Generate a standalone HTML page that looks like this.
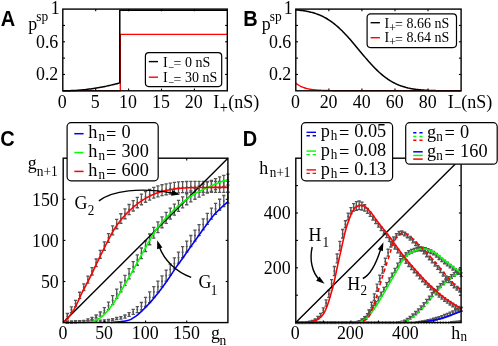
<!DOCTYPE html>
<html><head><meta charset="utf-8"><title>Figure</title>
<style>html,body{margin:0;padding:0;background:#fff;}svg{display:block;will-change:transform;opacity:0.999;}</style>
</head><body>
<svg width="498" height="346" viewBox="0 0 498 346">
<rect width="498" height="346" fill="#fff"/>
<path d="M62.8 90.8 L120.31 90.8 L120.31 34.43 L227.3 34.43" fill="none" stroke="#ff0000" stroke-width="1.3" stroke-linejoin="round" />
<path d="M62.8 90.8 L64.26 90.79 L65.72 90.78 L67.18 90.75 L68.64 90.72 L70.11 90.67 L71.57 90.61 L73.03 90.54 L74.49 90.47 L75.95 90.38 L77.41 90.28 L78.87 90.17 L80.33 90.05 L81.79 89.92 L83.26 89.78 L84.72 89.63 L86.18 89.47 L87.64 89.29 L89.1 89.11 L90.56 88.92 L92.02 88.72 L93.48 88.5 L94.94 88.28 L96.41 88.04 L97.87 87.8 L99.33 87.54 L100.79 87.28 L102.25 87 L103.71 86.72 L105.17 86.42 L106.63 86.11 L108.09 85.79 L109.56 85.46 L111.02 85.13 L112.48 84.78 L113.94 84.42 L115.4 84.05 L116.86 83.67 L118.32 83.28 L119.78 82.88 L119.78 10.33 L227.3 10.33" fill="none" stroke="#000" stroke-width="1.5" stroke-linejoin="round" />
<rect x="62.8" y="9.1" width="164.5" height="81.7" fill="none" stroke="#000" stroke-width="1.4"/>
<line x1="95.7" y1="90.8" x2="95.7" y2="88.6" stroke="#000" stroke-width="1.1" />
<line x1="95.7" y1="9.1" x2="95.7" y2="11.3" stroke="#000" stroke-width="1.1" />
<line x1="128.6" y1="90.8" x2="128.6" y2="88.6" stroke="#000" stroke-width="1.1" />
<line x1="128.6" y1="9.1" x2="128.6" y2="11.3" stroke="#000" stroke-width="1.1" />
<line x1="161.5" y1="90.8" x2="161.5" y2="88.6" stroke="#000" stroke-width="1.1" />
<line x1="161.5" y1="9.1" x2="161.5" y2="11.3" stroke="#000" stroke-width="1.1" />
<line x1="194.4" y1="90.8" x2="194.4" y2="88.6" stroke="#000" stroke-width="1.1" />
<line x1="194.4" y1="9.1" x2="194.4" y2="11.3" stroke="#000" stroke-width="1.1" />
<line x1="62.8" y1="74.46" x2="65" y2="74.46" stroke="#000" stroke-width="1.1" />
<line x1="227.3" y1="74.46" x2="225.1" y2="74.46" stroke="#000" stroke-width="1.1" />
<line x1="62.8" y1="58.12" x2="65" y2="58.12" stroke="#000" stroke-width="1.1" />
<line x1="227.3" y1="58.12" x2="225.1" y2="58.12" stroke="#000" stroke-width="1.1" />
<line x1="62.8" y1="41.78" x2="65" y2="41.78" stroke="#000" stroke-width="1.1" />
<line x1="227.3" y1="41.78" x2="225.1" y2="41.78" stroke="#000" stroke-width="1.1" />
<line x1="62.8" y1="25.44" x2="65" y2="25.44" stroke="#000" stroke-width="1.1" />
<line x1="227.3" y1="25.44" x2="225.1" y2="25.44" stroke="#000" stroke-width="1.1" />
<text transform="translate(62.2 107.8) scale(1 1.08)" font-size="17.9" text-anchor="middle" font-family="Liberation Serif, serif" >0</text>
<text transform="translate(95.1 107.8) scale(1 1.08)" font-size="17.9" text-anchor="middle" font-family="Liberation Serif, serif" >5</text>
<text transform="translate(128 107.8) scale(1 1.08)" font-size="17.9" text-anchor="middle" font-family="Liberation Serif, serif" >10</text>
<text transform="translate(160.9 107.8) scale(1 1.08)" font-size="17.9" text-anchor="middle" font-family="Liberation Serif, serif" >15</text>
<text transform="translate(193.8 107.8) scale(1 1.08)" font-size="17.9" text-anchor="middle" font-family="Liberation Serif, serif" >20</text>
<text transform="translate(59.6 14.2) scale(1 1.08)" font-size="17.9" text-anchor="end" font-family="Liberation Serif, serif" >1</text>
<text transform="translate(58.3 48) scale(1 1.08)" font-size="17.9" text-anchor="end" font-family="Liberation Serif, serif" >0.6</text>
<text transform="translate(58.3 80.3) scale(1 1.08)" font-size="17.9" text-anchor="end" font-family="Liberation Serif, serif" >0.2</text>
<text transform="translate(28.3 29.6) scale(1 1.08)" font-size="17.9" text-anchor="start" font-family="Liberation Serif, serif" >p</text>
<text transform="translate(36.2 21.2) scale(1 1.08)" font-size="13.4" text-anchor="start" font-family="Liberation Serif, serif" >sp</text>
<text transform="translate(213.2 107.8) scale(1 1.08)" font-size="17.9" text-anchor="start" font-family="Liberation Serif, serif" >I</text>
<text transform="translate(219.8 112.6) scale(1 1.08)" font-size="14.5" text-anchor="start" font-family="Liberation Serif, serif" >+</text>
<text transform="translate(228.3 107.8) scale(1 1.08)" font-size="17.9" text-anchor="start" font-family="Liberation Serif, serif" textLength="31" lengthAdjust="spacingAndGlyphs">(nS)</text>
<text transform="translate(0.8 26) scale(1 1.08)" font-size="20" text-anchor="start" font-family="Liberation Sans, sans-serif" font-weight="bold">A</text>
<rect x="145.4" y="52.7" width="76.3" height="33.9" rx="3.5" ry="3.5" fill="#fff" stroke="#000" stroke-width="1.2"/>
<line x1="148.8" y1="61.6" x2="158" y2="61.6" stroke="#000" stroke-width="1.4" />
<line x1="148.8" y1="77.2" x2="158" y2="77.2" stroke="#ff0000" stroke-width="1.4" />
<text transform="translate(163 67) scale(1 1.08)" font-size="14.0" text-anchor="start" font-family="Liberation Serif, serif" >I</text>
<text transform="translate(168.3 70.5) scale(1 1.08)" font-size="10.5" text-anchor="start" font-family="Liberation Serif, serif" >−</text>
<text transform="translate(173.4 68.2) scale(1 1.08)" font-size="14.0" text-anchor="start" font-family="Liberation Serif, serif" >=</text>
<text transform="translate(185 67) scale(1 1.08)" font-size="14.0" text-anchor="start" font-family="Liberation Serif, serif" >0 nS</text>
<text transform="translate(163 82.4) scale(1 1.08)" font-size="14.0" text-anchor="start" font-family="Liberation Serif, serif" >I</text>
<text transform="translate(168.3 85.9) scale(1 1.08)" font-size="10.5" text-anchor="start" font-family="Liberation Serif, serif" >−</text>
<text transform="translate(173.4 83.6) scale(1 1.08)" font-size="14.0" text-anchor="start" font-family="Liberation Serif, serif" >=</text>
<text transform="translate(185 82.4) scale(1 1.08)" font-size="14.0" text-anchor="start" font-family="Liberation Serif, serif" >30 nS</text>
<path d="M295.8 9.92 L296.63 9.96 L297.46 10.04 L298.29 10.11 L299.12 10.2 L299.95 10.29 L300.78 10.38 L301.61 10.48 L302.45 10.59 L303.28 10.71 L304.11 10.83 L304.94 10.97 L305.77 11.11 L306.6 11.26 L307.43 11.41 L308.26 11.58 L309.09 11.76 L309.92 11.95 L310.75 12.15 L311.58 12.36 L312.41 12.58 L313.24 12.81 L314.07 13.06 L314.91 13.32 L315.74 13.59 L316.57 13.87 L317.4 14.17 L318.23 14.49 L319.06 14.82 L319.89 15.16 L320.72 15.52 L321.55 15.9 L322.38 16.29 L323.21 16.7 L324.04 17.13 L324.87 17.57 L325.7 18.03 L326.53 18.51 L327.36 19.01 L328.2 19.53 L329.03 20.06 L329.86 20.61 L330.69 21.18 L331.52 21.77 L332.35 22.38 L333.18 23.01 L334.01 23.65 L334.84 24.32 L335.67 25 L336.5 25.7 L337.33 26.42 L338.16 27.15 L338.99 27.91 L339.82 28.68 L340.66 29.47 L341.49 30.27 L342.32 31.09 L343.15 31.93 L343.98 32.78 L344.81 33.65 L345.64 34.53 L346.47 35.42 L347.3 36.33 L348.13 37.25 L348.96 38.18 L349.79 39.12 L350.62 40.07 L351.45 41.03 L352.28 42 L353.12 42.97 L353.95 43.96 L354.78 44.94 L355.61 45.94 L356.44 46.93 L357.27 47.93 L358.1 48.93 L358.93 49.93 L359.76 50.93 L360.59 51.93 L361.42 52.93 L362.25 53.93 L363.08 54.92 L363.91 55.91 L364.74 56.89 L365.57 57.87 L366.41 58.83 L367.24 59.79 L368.07 60.75 L368.9 61.69 L369.73 62.62 L370.56 63.54 L371.39 64.44 L372.22 65.34 L373.05 66.22 L373.88 67.09 L374.71 67.94 L375.54 68.78 L376.37 69.6 L377.2 70.4 L378.03 71.19 L378.87 71.97 L379.7 72.72 L380.53 73.46 L381.36 74.18 L382.19 74.88 L383.02 75.56 L383.85 76.22 L384.68 76.87 L385.51 77.5 L386.34 78.11 L387.17 78.7 L388 79.27 L388.83 79.82 L389.66 80.35 L390.49 80.87 L391.33 81.37 L392.16 81.85 L392.99 82.31 L393.82 82.75 L394.65 83.18 L395.48 83.59 L396.31 83.99 L397.14 84.36 L397.97 84.72 L398.8 85.07 L399.63 85.4 L400.46 85.71 L401.29 86.02 L402.12 86.3 L402.95 86.57 L403.78 86.83 L404.62 87.08 L405.45 87.31 L406.28 87.54 L407.11 87.75 L407.94 87.95 L408.77 88.13 L409.6 88.31 L410.43 88.48 L411.26 88.64 L412.09 88.79 L412.92 88.93 L413.75 89.06 L414.58 89.19 L415.41 89.3 L416.24 89.41 L417.08 89.51 L417.91 89.61 L418.74 89.7 L419.57 89.78 L420.4 89.86 L421.23 89.93 L422.06 90 L422.89 90.07 L423.72 90.12 L424.55 90.18 L425.38 90.23 L426.21 90.28 L427.04 90.32 L427.87 90.36 L428.7 90.4 L429.54 90.43 L430.37 90.46 L431.2 90.49 L432.03 90.52 L432.86 90.55 L433.69 90.57 L434.52 90.59 L435.35 90.61 L436.18 90.63 L437.01 90.64 L437.84 90.66 L438.67 90.67 L439.5 90.68 L440.33 90.69 L441.16 90.7 L441.99 90.71 L442.83 90.72 L443.66 90.73 L444.49 90.74 L445.32 90.74 L446.15 90.75 L446.98 90.75 L447.81 90.76 L448.64 90.76 L449.47 90.77 L450.3 90.77 L451.13 90.77 L451.96 90.78 L452.79 90.78 L453.62 90.78 L454.45 90.78 L455.29 90.79 L456.12 90.79 L456.95 90.79 L457.78 90.79 L458.61 90.79 L459.44 90.79 L460.27 90.79 L461.1 90.79" fill="none" stroke="#000" stroke-width="1.5" stroke-linejoin="round" />
<path d="M295.8 83.12 L296.64 83.8 L297.47 84.41 L298.31 84.97 L299.15 85.49 L299.98 85.95 L300.82 86.38 L301.66 86.77 L302.5 87.12 L303.33 87.45 L304.17 87.74 L305.01 88.01 L305.84 88.26 L306.68 88.48 L307.52 88.68 L308.35 88.87 L309.19 89.04 L310.03 89.19 L310.87 89.34 L311.7 89.46 L312.54 89.58 L313.38 89.69 L314.21 89.79 L315.05 89.88 L315.89 89.96 L316.72 90.03 L317.56 90.1 L318.4 90.16 L319.23 90.22 L320.07 90.27 L320.91 90.31 L321.75 90.36 L322.58 90.4 L323.42 90.43 L324.26 90.46 L325.09 90.49 L325.93 90.52 L326.77 90.55 L327.6 90.57 L328.44 90.59 L329.28 90.61 L330.12 90.62 L330.95 90.64 L331.79 90.65 L332.63 90.67 L333.46 90.68 L334.3 90.69 L335.14 90.7 L335.97 90.71 L336.81 90.72 L337.65 90.72 L338.49 90.73 L339.32 90.74 L340.16 90.74 L341 90.75 L341.83 90.75 L342.67 90.76 L343.51 90.76 L344.34 90.76 L345.18 90.77 L346.02 90.77 L346.85 90.77 L347.69 90.77 L348.53 90.78 L349.37 90.78 L350.2 90.78 L351.04 90.78 L351.88 90.78 L352.71 90.79 L353.55 90.79 L354.39 90.79 L355.22 90.79 L356.06 90.79 L356.9 90.79 L357.74 90.79 L358.57 90.79 L359.41 90.79 L360.25 90.79 L361.08 90.79 L361.92 90.79 L461.1 90.8" fill="none" stroke="#ff0000" stroke-width="1.4" stroke-linejoin="round" />
<rect x="295.8" y="9.1" width="165.3" height="81.7" fill="none" stroke="#000" stroke-width="1.4"/>
<line x1="328.86" y1="90.8" x2="328.86" y2="88.6" stroke="#000" stroke-width="1.1" />
<line x1="328.86" y1="9.1" x2="328.86" y2="11.3" stroke="#000" stroke-width="1.1" />
<line x1="361.92" y1="90.8" x2="361.92" y2="88.6" stroke="#000" stroke-width="1.1" />
<line x1="361.92" y1="9.1" x2="361.92" y2="11.3" stroke="#000" stroke-width="1.1" />
<line x1="394.98" y1="90.8" x2="394.98" y2="88.6" stroke="#000" stroke-width="1.1" />
<line x1="394.98" y1="9.1" x2="394.98" y2="11.3" stroke="#000" stroke-width="1.1" />
<line x1="428.04" y1="90.8" x2="428.04" y2="88.6" stroke="#000" stroke-width="1.1" />
<line x1="428.04" y1="9.1" x2="428.04" y2="11.3" stroke="#000" stroke-width="1.1" />
<line x1="295.8" y1="74.46" x2="298" y2="74.46" stroke="#000" stroke-width="1.1" />
<line x1="461.1" y1="74.46" x2="458.9" y2="74.46" stroke="#000" stroke-width="1.1" />
<line x1="295.8" y1="58.12" x2="298" y2="58.12" stroke="#000" stroke-width="1.1" />
<line x1="461.1" y1="58.12" x2="458.9" y2="58.12" stroke="#000" stroke-width="1.1" />
<line x1="295.8" y1="41.78" x2="298" y2="41.78" stroke="#000" stroke-width="1.1" />
<line x1="461.1" y1="41.78" x2="458.9" y2="41.78" stroke="#000" stroke-width="1.1" />
<line x1="295.8" y1="25.44" x2="298" y2="25.44" stroke="#000" stroke-width="1.1" />
<line x1="461.1" y1="25.44" x2="458.9" y2="25.44" stroke="#000" stroke-width="1.1" />
<text transform="translate(295.5 107.8) scale(1 1.08)" font-size="17.9" text-anchor="middle" font-family="Liberation Serif, serif" >0</text>
<text transform="translate(328.56 107.8) scale(1 1.08)" font-size="17.9" text-anchor="middle" font-family="Liberation Serif, serif" >20</text>
<text transform="translate(361.62 107.8) scale(1 1.08)" font-size="17.9" text-anchor="middle" font-family="Liberation Serif, serif" >40</text>
<text transform="translate(394.68 107.8) scale(1 1.08)" font-size="17.9" text-anchor="middle" font-family="Liberation Serif, serif" >60</text>
<text transform="translate(427.74 107.8) scale(1 1.08)" font-size="17.9" text-anchor="middle" font-family="Liberation Serif, serif" >80</text>
<text transform="translate(292.6 14.2) scale(1 1.08)" font-size="17.9" text-anchor="end" font-family="Liberation Serif, serif" >1</text>
<text transform="translate(291.3 48) scale(1 1.08)" font-size="17.9" text-anchor="end" font-family="Liberation Serif, serif" >0.6</text>
<text transform="translate(291.3 80.3) scale(1 1.08)" font-size="17.9" text-anchor="end" font-family="Liberation Serif, serif" >0.2</text>
<text transform="translate(261.8 29.6) scale(1 1.08)" font-size="17.9" text-anchor="start" font-family="Liberation Serif, serif" >p</text>
<text transform="translate(269.7 21.2) scale(1 1.08)" font-size="13.4" text-anchor="start" font-family="Liberation Serif, serif" >sp</text>
<text transform="translate(447.8 107.8) scale(1 1.08)" font-size="17.9" text-anchor="start" font-family="Liberation Serif, serif" >I</text>
<text transform="translate(453.8 112.4) scale(1 1.08)" font-size="13.2" text-anchor="start" font-family="Liberation Serif, serif" >−</text>
<text transform="translate(461.3 107.8) scale(1 1.08)" font-size="17.9" text-anchor="start" font-family="Liberation Serif, serif" textLength="31" lengthAdjust="spacingAndGlyphs">(nS)</text>
<text transform="translate(243.2 26) scale(1 1.08)" font-size="20" text-anchor="start" font-family="Liberation Sans, sans-serif" font-weight="bold">B</text>
<rect x="367.1" y="13.8" width="89.4" height="33.8" rx="3.5" ry="3.5" fill="#fff" stroke="#000" stroke-width="1.2"/>
<line x1="370.6" y1="22.7" x2="379.9" y2="22.7" stroke="#000" stroke-width="1.4" />
<line x1="370.6" y1="37.7" x2="379.9" y2="37.7" stroke="#ff0000" stroke-width="1.4" />
<text transform="translate(384.6 27.6) scale(1 1.08)" font-size="14.0" text-anchor="start" font-family="Liberation Serif, serif" >I</text>
<text transform="translate(389.1 31.5) scale(1 1.08)" font-size="12.3" text-anchor="start" font-family="Liberation Serif, serif" >+</text>
<text transform="translate(395 28.8) scale(1 1.08)" font-size="14.0" text-anchor="start" font-family="Liberation Serif, serif" >=</text>
<text transform="translate(406.6 27.6) scale(1 1.08)" font-size="14.0" text-anchor="start" font-family="Liberation Serif, serif" >8.66 nS</text>
<text transform="translate(384.6 42.4) scale(1 1.08)" font-size="14.0" text-anchor="start" font-family="Liberation Serif, serif" >I</text>
<text transform="translate(389.1 46.3) scale(1 1.08)" font-size="12.3" text-anchor="start" font-family="Liberation Serif, serif" >+</text>
<text transform="translate(395 43.6) scale(1 1.08)" font-size="14.0" text-anchor="start" font-family="Liberation Serif, serif" >=</text>
<text transform="translate(406.6 42.4) scale(1 1.08)" font-size="14.0" text-anchor="start" font-family="Liberation Serif, serif" >8.64 nS</text>
<path d="M67.32 321.18V322.98M65.67 321.18H68.97M65.67 322.98H68.97M71.44 321.07V322.87M69.78 321.07H73.09M69.78 322.87H73.09M75.55 320.96V322.76M73.9 320.96H77.2M73.9 322.76H77.2M79.67 320.85V322.65M78.02 320.85H81.32M78.02 322.65H81.32M83.79 320.74V322.54M82.14 320.74H85.44M82.14 322.54H85.44M87.91 320.63V322.43M86.25 320.63H89.56M86.25 322.43H89.56M92.02 320.45V322.25M90.37 320.45H93.67M90.37 322.25H93.67M96.14 320.26V322.06M94.49 320.26H97.79M94.49 322.06H97.79M100.26 320.08V321.88M98.61 320.08H101.91M98.61 321.88H101.91M104.38 319.85V321.65M102.72 319.85H106.03M102.72 321.65H106.03M108.49 319.34V321.14M106.84 319.34H110.14M106.84 321.14H110.14M112.61 318.6V320.4M110.96 318.6H114.26M110.96 320.4H114.26M116.73 317.52V319.62M115.08 317.52H118.38M115.08 319.62H118.38M120.84 316.59V319.04M119.19 316.59H122.5M119.19 319.04H122.5M124.96 315.02V318.04M123.31 315.02H126.61M123.31 318.04H126.61M129.08 312.53V316.45M127.43 312.53H130.73M127.43 316.45H130.73M133.2 309.36V314.41M131.55 309.36H134.85M131.55 314.41H134.85M137.31 306.57V312.58M135.66 306.57H138.97M135.66 312.58H138.97M141.43 302.52V309.91M139.78 302.52H143.08M139.78 309.91H143.08M145.55 297.44V306.52M143.9 297.44H147.2M143.9 306.52H147.2M149.67 291.83V302.59M148.02 291.83H151.32M148.02 302.59H151.32M153.79 286.69V297.51M152.14 286.69H155.44M152.14 297.51H155.44M157.9 281.22V292.09M156.25 281.22H159.55M156.25 292.09H159.55M162.02 275.86V286.76M160.37 275.86H163.67M160.37 286.76H163.67M166.14 270.11V281.04M164.49 270.11H167.79M164.49 281.04H167.79M170.25 264.08V275.03M168.6 264.08H171.91M168.6 275.03H171.91M174.37 257.91V268.88M172.72 257.91H176.02M172.72 268.88H176.02M178.49 252.15V263.12M176.84 252.15H180.14M176.84 263.12H180.14M182.61 246.67V257.65M180.96 246.67H184.26M180.96 257.65H184.26M186.72 241.04V252.03M185.07 241.04H188.38M185.07 252.03H188.38M190.84 235.49V246.49M189.19 235.49H192.49M189.19 246.49H192.49M194.96 230.07V241.07M193.31 230.07H196.61M193.31 241.07H196.61M199.08 224.59V235.59M197.43 224.59H200.73M197.43 235.59H200.73M203.19 218.93V229.93M201.54 218.93H204.84M201.54 229.93H204.84M207.31 213.43V224.43M205.66 213.43H208.96M205.66 224.43H208.96M211.43 208.03V219.03M209.78 208.03H213.08M209.78 219.03H213.08M215.55 203.29V214.29M213.9 203.29H217.2M213.9 214.29H217.2M219.66 199.23V210.23M218.01 199.23H221.31M218.01 210.23H221.31M223.78 195.52V206.52M222.13 195.52H225.43M222.13 206.52H225.43M227.9 192.16V203.16M226.25 192.16H229.55M226.25 203.16H229.55" fill="none" stroke="#555555" stroke-width="1.3"/>
<path d="M67.32 322.08h0M71.44 321.97h0M75.55 321.86h0M79.67 321.75h0M83.79 321.64h0M87.91 321.53h0M92.02 321.35h0M96.14 321.16h0M100.26 320.98h0M104.38 320.75h0M108.49 320.24h0M112.61 319.5h0M116.73 318.57h0M120.84 317.81h0M124.96 316.53h0M129.08 314.49h0M133.2 311.88h0M137.31 309.57h0M141.43 306.21h0M145.55 301.98h0M149.67 297.21h0M153.79 292.1h0M157.9 286.65h0M162.02 281.31h0M166.14 275.57h0M170.25 269.56h0M174.37 263.4h0M178.49 257.63h0M182.61 252.16h0M186.72 246.54h0M190.84 240.99h0M194.96 235.57h0M199.08 230.09h0M203.19 224.43h0M207.31 218.93h0M211.43 213.53h0M215.55 208.79h0M219.66 204.73h0M223.78 201.02h0M227.9 197.66h0" fill="none" stroke="#555555" stroke-width="2" stroke-linecap="round"/>
<path d="M67.32 321.26V323.06M65.67 321.26H68.97M65.67 323.06H68.97M71.44 321.06V322.86M69.78 321.06H73.09M69.78 322.86H73.09M75.55 320.86V322.66M73.9 320.86H77.2M73.9 322.66H77.2M79.67 320.66V322.46M78.02 320.66H81.32M78.02 322.46H81.32M83.79 320.42V322.22M82.14 320.42H85.44M82.14 322.22H85.44M87.91 318.94V320.74M86.25 318.94H89.56M86.25 320.74H89.56M92.02 317.29V319.47M90.37 317.29H93.67M90.37 319.47H93.67M96.14 314.99V318.02M94.49 314.99H97.79M94.49 318.02H97.79M100.26 311.99V316.1M98.61 311.99H101.91M98.61 316.1H101.91M104.38 307.55V313.22M102.72 307.55H106.03M102.72 313.22H106.03M108.49 302.06V309.6M106.84 302.06H110.14M106.84 309.6H110.14M112.61 295.63V304.71M110.96 295.63H114.26M110.96 304.71H114.26M116.73 289.06V298.45M115.08 289.06H118.38M115.08 298.45H118.38M120.84 282.07V291.74M119.19 282.07H122.5M119.19 291.74H122.5M124.96 275.43V285.34M123.31 275.43H126.61M123.31 285.34H126.61M129.08 268.62V278.74M127.43 268.62H130.73M127.43 278.74H130.73M133.2 261.59V271.89M131.55 261.59H134.85M131.55 271.89H134.85M137.31 254.81V265.26M135.66 254.81H138.97M135.66 265.26H138.97M141.43 247.98V258.55M139.78 247.98H143.08M139.78 258.55H143.08M145.55 240.99V251.66M143.9 240.99H147.2M143.9 251.66H147.2M149.67 234.01V244.76M148.02 234.01H151.32M148.02 244.76H151.32M153.79 227.39V238.21M152.14 227.39H155.44M152.14 238.21H155.44M157.9 221.83V232.69M156.25 221.83H159.55M156.25 232.69H159.55M162.02 216.87V227.77M160.37 216.87H163.67M160.37 227.77H163.67M166.14 212.42V223.35M164.49 212.42H167.79M164.49 223.35H167.79M170.25 208.17V219.12M168.6 208.17H171.91M168.6 219.12H171.91M174.37 204.1V215.06M172.72 204.1H176.02M172.72 215.06H176.02M178.49 200.34V211.32M176.84 200.34H180.14M176.84 211.32H180.14M182.61 196.94V207.92M180.96 196.94H184.26M180.96 207.92H184.26M186.72 193.74V204.73M185.07 193.74H188.38M185.07 204.73H188.38M190.84 190.82V201.81M189.19 190.82H192.49M189.19 201.81H192.49M194.96 188.25V199.25M193.31 188.25H196.61M193.31 199.25H196.61M199.08 186.04V197.03M197.43 186.04H200.73M197.43 197.03H200.73M203.19 184.05V195.05M201.54 184.05H204.84M201.54 195.05H204.84M207.31 182.18V193.17M205.66 182.18H208.96M205.66 193.17H208.96M211.43 180.33V191.33M209.78 180.33H213.08M209.78 191.33H213.08M215.55 178.58V189.57M213.9 178.58H217.2M213.9 189.57H217.2M219.66 176.95V187.95M218.01 176.95H221.31M218.01 187.95H221.31M223.78 175.45V186.45M222.13 175.45H225.43M222.13 186.45H225.43M227.9 174.07V185.07M226.25 174.07H229.55M226.25 185.07H229.55" fill="none" stroke="#555555" stroke-width="1.3"/>
<path d="M67.32 322.16h0M71.44 321.96h0M75.55 321.76h0M79.67 321.56h0M83.79 321.32h0M87.91 319.84h0M92.02 318.38h0M96.14 316.51h0M100.26 314.05h0M104.38 310.38h0M108.49 305.83h0M112.61 300.17h0M116.73 293.75h0M120.84 286.9h0M124.96 280.39h0M129.08 273.68h0M133.2 266.74h0M137.31 260.04h0M141.43 253.26h0M145.55 246.33h0M149.67 239.39h0M153.79 232.8h0M157.9 227.26h0M162.02 222.32h0M166.14 217.89h0M170.25 213.64h0M174.37 209.58h0M178.49 205.83h0M182.61 202.43h0M186.72 199.24h0M190.84 196.32h0M194.96 193.75h0M199.08 191.54h0M203.19 189.55h0M207.31 187.68h0M211.43 185.83h0M215.55 184.07h0M219.66 182.45h0M223.78 180.95h0M227.9 179.57h0" fill="none" stroke="#555555" stroke-width="2" stroke-linecap="round"/>
<path d="M67.32 313.48V318.88M65.67 313.48H68.97M65.67 318.88H68.97M71.44 306.79V312.73M69.78 306.79H73.09M69.78 312.73H73.09M75.55 300.42V306.54M73.9 300.42H77.2M73.9 306.54H77.2M79.67 292.27V298.62M78.02 292.27H81.32M78.02 298.62H81.32M83.79 283.85V290.48M82.14 283.85H85.44M82.14 290.48H85.44M87.91 276.09V283.04M86.25 276.09H89.56M86.25 283.04H89.56M92.02 267.69V274.99M90.37 267.69H93.67M90.37 274.99H93.67M96.14 259.01V266.68M94.49 259.01H97.79M94.49 266.68H97.79M100.26 250.4V258.44M98.61 250.4H101.91M98.61 258.44H101.91M104.38 241.9V250.3M102.72 241.9H106.03M102.72 250.3H106.03M108.49 233.68V242.43M106.84 233.68H110.14M106.84 242.43H110.14M112.61 225.88V234.97M110.96 225.88H114.26M110.96 234.97H114.26M116.73 219.34V228.74M115.08 219.34H118.38M115.08 228.74H118.38M120.84 213.73V223.39M119.19 213.73H122.5M119.19 223.39H122.5M124.96 208.82V218.73M123.31 208.82H126.61M123.31 218.73H126.61M129.08 204.52V214.64M127.43 204.52H130.73M127.43 214.64H130.73M133.2 200.7V211M131.55 200.7H134.85M131.55 211H134.85M137.31 197.28V207.73M135.66 197.28H138.97M135.66 207.73H138.97M141.43 194.19V204.76M139.78 194.19H143.08M139.78 204.76H143.08M145.55 191.55V202.23M143.9 191.55H147.2M143.9 202.23H147.2M149.67 189.32V200.07M148.02 189.32H151.32M148.02 200.07H151.32M153.79 187.36V198.18M152.14 187.36H155.44M152.14 198.18H155.44M157.9 185.93V196.79M156.25 185.93H159.55M156.25 196.79H159.55M162.02 184.77V195.67M160.37 184.77H163.67M160.37 195.67H163.67M166.14 183.82V194.75M164.49 183.82H167.79M164.49 194.75H167.79M170.25 183.08V194.03M168.6 183.08H171.91M168.6 194.03H171.91M174.37 182.44V193.41M172.72 182.44H176.02M172.72 193.41H176.02M178.49 181.95V192.93M176.84 181.95H180.14M176.84 192.93H180.14M182.61 181.69V192.68M180.96 181.69H184.26M180.96 192.68H184.26M186.72 181.51V192.5M185.07 181.51H188.38M185.07 192.5H188.38M190.84 181.36V192.36M189.19 181.36H192.49M189.19 192.36H192.49M194.96 181.31V192.3M193.31 181.31H196.61M193.31 192.3H196.61M199.08 181.31V192.31M197.43 181.31H200.73M197.43 192.31H200.73M203.19 181.32V192.31M201.54 181.32H204.84M201.54 192.31H204.84M207.31 181.33V192.33M205.66 181.33H208.96M205.66 192.33H208.96M211.43 181.35V192.35M209.78 181.35H213.08M209.78 192.35H213.08M215.55 181.37V192.37M213.9 181.37H217.2M213.9 192.37H217.2M219.66 181.4V192.4M218.01 181.4H221.31M218.01 192.4H221.31M223.78 181.43V192.43M222.13 181.43H225.43M222.13 192.43H225.43M227.9 181.47V192.47M226.25 181.47H229.55M226.25 192.47H229.55" fill="none" stroke="#555555" stroke-width="1.3"/>
<path d="M67.32 316.18h0M71.44 309.76h0M75.55 303.48h0M79.67 295.44h0M83.79 287.17h0M87.91 279.56h0M92.02 271.34h0M96.14 262.85h0M100.26 254.42h0M104.38 246.1h0M108.49 238.06h0M112.61 230.43h0M116.73 224.04h0M120.84 218.56h0M124.96 213.78h0M129.08 209.58h0M133.2 205.85h0M137.31 202.51h0M141.43 199.48h0M145.55 196.89h0M149.67 194.69h0M153.79 192.77h0M157.9 191.36h0M162.02 190.22h0M166.14 189.29h0M170.25 188.55h0M174.37 187.92h0M178.49 187.44h0M182.61 187.18h0M186.72 187.01h0M190.84 186.86h0M194.96 186.81h0M199.08 186.81h0M203.19 186.82h0M207.31 186.83h0M211.43 186.85h0M215.55 186.87h0M219.66 186.9h0M223.78 186.93h0M227.9 186.97h0" fill="none" stroke="#555555" stroke-width="2" stroke-linecap="round"/>
<line x1="63.2" y1="322.6" x2="227.9" y2="158.2" stroke="#000" stroke-width="1.4" />
<path d="M110.96 322.38 L111.79 322.34 L112.61 322.29 L113.43 322.25 L114.26 322.19 L115.08 322.13 L115.9 322.07 L116.73 322 L117.55 321.93 L118.37 321.85 L119.2 321.77 L120.02 321.68 L120.84 321.6 L121.67 321.51 L122.49 321.41 L123.32 321.3 L124.14 321.18 L124.96 321.05 L125.79 320.9 L126.61 320.72 L127.43 320.53 L128.26 320.32 L129.08 320.06 L129.9 319.74 L130.73 319.35 L131.55 318.92 L132.37 318.44 L133.2 317.93 L134.02 317.41 L134.84 316.87 L135.67 316.32 L136.49 315.71 L137.31 315.06 L138.14 314.38 L138.96 313.66 L139.79 312.91 L140.61 312.14 L141.43 311.35 L142.26 310.55 L143.08 309.75 L143.9 308.95 L144.73 308.14 L145.55 307.32 L146.37 306.48 L147.2 305.63 L148.02 304.76 L148.84 303.87 L149.67 302.97 L150.49 302.05 L151.31 301.12 L152.14 300.18 L152.96 299.23 L153.79 298.27 L154.61 297.29 L155.43 296.29 L156.26 295.29 L157.08 294.26 L157.9 293.23 L158.73 292.18 L159.55 291.13 L160.37 290.06 L161.2 288.98 L162.02 287.88 L162.84 286.77 L163.67 285.64 L164.49 284.49 L165.31 283.33 L166.14 282.15 L166.96 280.96 L167.78 279.77 L168.61 278.57 L169.43 277.36 L170.25 276.13 L171.08 274.88 L171.9 273.62 L172.73 272.35 L173.55 271.09 L174.37 269.84 L175.2 268.6 L176.02 267.4 L176.84 266.22 L177.67 265.07 L178.49 263.94 L179.31 262.81 L180.14 261.7 L180.96 260.58 L181.78 259.46 L182.61 258.32 L183.43 257.17 L184.25 255.99 L185.08 254.8 L185.9 253.6 L186.72 252.4 L187.55 251.2 L188.37 250.02 L189.2 248.85 L190.02 247.69 L190.84 246.54 L191.67 245.39 L192.49 244.25 L193.31 243.1 L194.14 241.96 L194.96 240.81 L195.78 239.66 L196.61 238.5 L197.43 237.34 L198.25 236.18 L199.08 235.02 L199.9 233.86 L200.72 232.7 L201.55 231.54 L202.37 230.39 L203.19 229.25 L204.02 228.11 L204.84 226.98 L205.67 225.86 L206.49 224.75 L207.31 223.63 L208.14 222.51 L208.96 221.39 L209.78 220.28 L210.61 219.19 L211.43 218.12 L212.25 217.07 L213.08 216.06 L213.9 215.09 L214.72 214.16 L215.55 213.26 L216.37 212.39 L217.19 211.53 L218.02 210.7 L218.84 209.89 L219.66 209.09 L220.49 208.3 L221.31 207.52 L222.14 206.75 L222.96 206 L223.78 205.26 L224.61 204.53 L225.43 203.82 L226.25 203.12 L227.08 202.44 L227.9 201.77" fill="none" stroke="#0000ff" stroke-width="1.6" stroke-linejoin="round" />
<path d="M87.08 322.37 L87.91 322.31 L88.73 322.24 L89.55 322.16 L90.38 322.05 L91.2 321.88 L92.02 321.67 L92.85 321.41 L93.67 321.12 L94.49 320.79 L95.32 320.43 L96.14 320.04 L96.96 319.64 L97.79 319.21 L98.61 318.77 L99.43 318.33 L100.26 317.83 L101.08 317.24 L101.9 316.58 L102.73 315.85 L103.55 315.07 L104.38 314.25 L105.2 313.4 L106.02 312.53 L106.85 311.66 L107.67 310.74 L108.49 309.78 L109.32 308.76 L110.14 307.71 L110.96 306.61 L111.79 305.49 L112.61 304.34 L113.43 303.17 L114.26 301.98 L115.08 300.75 L115.9 299.46 L116.73 298.14 L117.55 296.79 L118.37 295.42 L119.2 294.04 L120.02 292.65 L120.84 291.28 L121.67 289.92 L122.49 288.55 L123.32 287.17 L124.14 285.79 L124.96 284.4 L125.79 283 L126.61 281.6 L127.43 280.19 L128.26 278.77 L129.08 277.33 L129.9 275.89 L130.73 274.44 L131.55 272.97 L132.37 271.5 L133.2 270.03 L134.02 268.56 L134.84 267.08 L135.67 265.61 L136.49 264.13 L137.31 262.64 L138.14 261.15 L138.96 259.66 L139.79 258.17 L140.61 256.68 L141.43 255.18 L142.26 253.68 L143.08 252.15 L143.9 250.62 L144.73 249.09 L145.55 247.56 L146.37 246.04 L147.2 244.54 L148.02 243.07 L148.84 241.63 L149.67 240.21 L150.49 238.78 L151.31 237.35 L152.14 235.94 L152.96 234.56 L153.79 233.21 L154.61 231.9 L155.43 230.65 L156.26 229.46 L157.08 228.34 L157.9 227.26 L158.73 226.21 L159.55 225.2 L160.37 224.21 L161.2 223.25 L162.02 222.32 L162.84 221.4 L163.67 220.5 L164.49 219.62 L165.31 218.75 L166.14 217.89 L166.96 217.03 L167.78 216.18 L168.61 215.33 L169.43 214.48 L170.25 213.64 L171.08 212.81 L171.9 211.99 L172.73 211.17 L173.55 210.37 L174.37 209.58 L175.2 208.8 L176.02 208.04 L176.84 207.28 L177.67 206.55 L178.49 205.83 L179.31 205.12 L180.14 204.44 L180.96 203.76 L181.78 203.09 L182.61 202.43 L183.43 201.77 L184.25 201.12 L185.08 200.48 L185.9 199.86 L186.72 199.24 L187.55 198.63 L188.37 198.03 L189.2 197.45 L190.02 196.88 L190.84 196.32 L191.67 195.77 L192.49 195.24 L193.31 194.73 L194.14 194.23 L194.96 193.75 L195.78 193.29 L196.61 192.83 L197.43 192.39 L198.25 191.96 L199.08 191.54 L199.9 191.12 L200.72 190.72 L201.55 190.32 L202.37 189.93 L203.19 189.55 L204.02 189.17 L204.84 188.79 L205.67 188.42 L206.49 188.05 L207.31 187.68 L208.14 187.3 L208.96 186.93 L209.78 186.56 L210.61 186.19 L211.43 185.83 L212.25 185.47 L213.08 185.11 L213.9 184.76 L214.72 184.42 L215.55 184.07 L216.37 183.74 L217.19 183.41 L218.02 183.08 L218.84 182.77 L219.66 182.45 L220.49 182.14 L221.31 181.84 L222.14 181.54 L222.96 181.24 L223.78 180.95 L224.61 180.67 L225.43 180.38 L226.25 180.11 L227.08 179.84 L227.9 179.57" fill="none" stroke="#00ff00" stroke-width="1.6" stroke-linejoin="round" />
<path d="M63.2 322.6 L64.02 321.91 L64.85 321.18 L65.67 320.39 L66.49 319.54 L67.32 318.64 L68.14 317.69 L68.96 316.69 L69.79 315.64 L70.61 314.53 L71.44 313.38 L72.26 312.16 L73.08 310.9 L73.91 309.58 L74.73 308.2 L75.55 306.69 L76.38 305.03 L77.2 303.28 L78.02 301.46 L78.85 299.6 L79.67 297.75 L80.49 295.93 L81.32 294.18 L82.14 292.52 L82.96 290.91 L83.79 289.35 L84.61 287.8 L85.43 286.26 L86.26 284.73 L87.08 283.18 L87.91 281.62 L88.73 280.02 L89.55 278.37 L90.38 276.69 L91.2 275 L92.02 273.3 L92.85 271.59 L93.67 269.87 L94.49 268.15 L95.32 266.43 L96.14 264.71 L96.96 263 L97.79 261.3 L98.61 259.6 L99.43 257.89 L100.26 256.19 L101.08 254.48 L101.9 252.79 L102.73 251.1 L103.55 249.43 L104.38 247.77 L105.2 246.13 L106.02 244.51 L106.85 242.89 L107.67 241.26 L108.49 239.63 L109.32 238.02 L110.14 236.42 L110.96 234.87 L111.79 233.36 L112.61 231.9 L113.43 230.52 L114.26 229.21 L115.08 227.94 L115.9 226.71 L116.73 225.52 L117.55 224.36 L118.37 223.23 L119.2 222.14 L120.02 221.07 L120.84 220.04 L121.67 219.03 L122.49 218.04 L123.32 217.09 L124.14 216.16 L124.96 215.26 L125.79 214.37 L126.61 213.52 L127.43 212.68 L128.26 211.86 L129.08 211.06 L129.9 210.28 L130.73 209.52 L131.55 208.77 L132.37 208.04 L133.2 207.33 L134.02 206.63 L134.84 205.95 L135.67 205.28 L136.49 204.63 L137.31 203.99 L138.14 203.35 L138.96 202.73 L139.79 202.12 L140.61 201.53 L141.43 200.96 L142.26 200.4 L143.08 199.87 L143.9 199.35 L144.73 198.86 L145.55 198.37 L146.37 197.9 L147.2 197.45 L148.02 197.01 L148.84 196.59 L149.67 196.17 L150.49 195.77 L151.31 195.38 L152.14 194.99 L152.96 194.61 L153.79 194.25 L154.61 193.91 L155.43 193.59 L156.26 193.3 L157.08 193.02 L157.9 192.76 L158.73 192.5 L159.55 192.24 L160.37 192 L161.2 191.76 L162.02 191.54 L162.84 191.32 L163.67 191.1 L164.49 190.9 L165.31 190.7 L166.14 190.52 L166.96 190.34 L167.78 190.17 L168.61 190.01 L169.43 189.86 L170.25 189.7 L171.08 189.55 L171.9 189.41 L172.73 189.26 L173.55 189.12 L174.37 188.99 L175.2 188.86 L176.02 188.74 L176.84 188.63 L177.67 188.53 L178.49 188.43 L179.31 188.34 L180.14 188.27 L180.96 188.2 L181.78 188.14 L182.61 188.09 L183.43 188.03 L184.25 187.98 L185.08 187.93 L185.9 187.88 L186.72 187.83 L187.55 187.79 L188.37 187.75 L189.2 187.71 L190.02 187.67 L190.84 187.64 L191.67 187.61 L192.49 187.59 L193.31 187.57 L194.14 187.56 L194.96 187.55 L195.78 187.54 L196.61 187.53 L197.43 187.52 L198.25 187.51 L199.08 187.51 L199.9 187.5 L200.72 187.49 L201.55 187.49 L202.37 187.48 L203.19 187.47 L204.02 187.47 L204.84 187.46 L205.67 187.46 L206.49 187.45 L207.31 187.44 L208.14 187.44 L208.96 187.43 L209.78 187.43 L210.61 187.43 L211.43 187.42 L212.25 187.42 L213.08 187.41 L213.9 187.41 L214.72 187.41 L215.55 187.4 L216.37 187.4 L217.19 187.4 L218.02 187.4 L218.84 187.39 L219.66 187.39 L220.49 187.39 L221.31 187.39 L222.14 187.39 L222.96 187.38 L223.78 187.38 L224.61 187.38 L225.43 187.38 L226.25 187.38 L227.08 187.38 L227.9 187.38" fill="none" stroke="#ff0000" stroke-width="1.6" stroke-linejoin="round" />
<rect x="63.2" y="158.2" width="164.7" height="164.4" fill="none" stroke="#000" stroke-width="1.4"/>
<line x1="104.38" y1="322.6" x2="104.38" y2="320.4" stroke="#000" stroke-width="1.1" />
<line x1="104.38" y1="158.2" x2="104.38" y2="160.4" stroke="#000" stroke-width="1.1" />
<line x1="145.55" y1="322.6" x2="145.55" y2="320.4" stroke="#000" stroke-width="1.1" />
<line x1="145.55" y1="158.2" x2="145.55" y2="160.4" stroke="#000" stroke-width="1.1" />
<line x1="186.72" y1="322.6" x2="186.72" y2="320.4" stroke="#000" stroke-width="1.1" />
<line x1="186.72" y1="158.2" x2="186.72" y2="160.4" stroke="#000" stroke-width="1.1" />
<line x1="63.2" y1="281.5" x2="65.4" y2="281.5" stroke="#000" stroke-width="1.1" />
<line x1="227.9" y1="281.5" x2="225.7" y2="281.5" stroke="#000" stroke-width="1.1" />
<line x1="63.2" y1="240.4" x2="65.4" y2="240.4" stroke="#000" stroke-width="1.1" />
<line x1="227.9" y1="240.4" x2="225.7" y2="240.4" stroke="#000" stroke-width="1.1" />
<line x1="63.2" y1="199.3" x2="65.4" y2="199.3" stroke="#000" stroke-width="1.1" />
<line x1="227.9" y1="199.3" x2="225.7" y2="199.3" stroke="#000" stroke-width="1.1" />
<text transform="translate(62.9 338.9) scale(1 1.08)" font-size="17.9" text-anchor="middle" font-family="Liberation Serif, serif" >0</text>
<text transform="translate(104.08 338.9) scale(1 1.08)" font-size="17.9" text-anchor="middle" font-family="Liberation Serif, serif" >50</text>
<text transform="translate(145.25 338.9) scale(1 1.08)" font-size="17.9" text-anchor="middle" font-family="Liberation Serif, serif" >100</text>
<text transform="translate(186.42 338.9) scale(1 1.08)" font-size="17.9" text-anchor="middle" font-family="Liberation Serif, serif" >150</text>
<text transform="translate(58.8 288.1) scale(1 1.08)" font-size="17.9" text-anchor="end" font-family="Liberation Serif, serif" >50</text>
<text transform="translate(58.8 247) scale(1 1.08)" font-size="17.9" text-anchor="end" font-family="Liberation Serif, serif" >100</text>
<text transform="translate(58.8 205.9) scale(1 1.08)" font-size="17.9" text-anchor="end" font-family="Liberation Serif, serif" >150</text>
<text transform="translate(211 338.9) scale(1 1.08)" font-size="17.9" text-anchor="start" font-family="Liberation Serif, serif" >g</text>
<text transform="translate(219.6 344.8) scale(1 1.08)" font-size="13.5" text-anchor="start" font-family="Liberation Serif, serif" >n</text>
<text transform="translate(27.8 168.8) scale(1 1.08)" font-size="17.9" text-anchor="start" font-family="Liberation Serif, serif" >g</text>
<text transform="translate(36.8 176.2) scale(1 1.08)" font-size="13.2" text-anchor="start" font-family="Liberation Serif, serif" textLength="21" lengthAdjust="spacingAndGlyphs">n+1</text>
<text transform="translate(0.3 146.4) scale(1 1.08)" font-size="20" text-anchor="start" font-family="Liberation Sans, sans-serif" font-weight="bold">C</text>
<rect x="67.1" y="122.7" width="91.1" height="58.1" rx="4" ry="4" fill="#fff" stroke="#000" stroke-width="1.2"/>
<line x1="74.3" y1="133.7" x2="83.6" y2="133.7" stroke="#0000ff" stroke-width="1.5" />
<text transform="translate(88.2 138.3) scale(1 1.08)" font-size="18.3" text-anchor="start" font-family="Liberation Serif, serif" >h</text>
<text transform="translate(98.6 141.3) scale(1 1.08)" font-size="13.2" text-anchor="start" font-family="Liberation Serif, serif" >n</text>
<text transform="translate(106 140) scale(1 1.08)" font-size="18.3" text-anchor="start" font-family="Liberation Serif, serif" >=</text>
<text transform="translate(121.4 138.3) scale(1 1.08)" font-size="18.3" text-anchor="start" font-family="Liberation Serif, serif" >0</text>
<line x1="74.3" y1="152.55" x2="83.6" y2="152.55" stroke="#00ff00" stroke-width="1.5" />
<text transform="translate(88.2 157.15) scale(1 1.08)" font-size="18.3" text-anchor="start" font-family="Liberation Serif, serif" >h</text>
<text transform="translate(98.6 160.15) scale(1 1.08)" font-size="13.2" text-anchor="start" font-family="Liberation Serif, serif" >n</text>
<text transform="translate(106 158.85) scale(1 1.08)" font-size="18.3" text-anchor="start" font-family="Liberation Serif, serif" >=</text>
<text transform="translate(121.4 157.15) scale(1 1.08)" font-size="18.3" text-anchor="start" font-family="Liberation Serif, serif" >300</text>
<line x1="74.3" y1="171.4" x2="83.6" y2="171.4" stroke="#ff0000" stroke-width="1.5" />
<text transform="translate(88.2 176) scale(1 1.08)" font-size="18.3" text-anchor="start" font-family="Liberation Serif, serif" >h</text>
<text transform="translate(98.6 179) scale(1 1.08)" font-size="13.2" text-anchor="start" font-family="Liberation Serif, serif" >n</text>
<text transform="translate(106 177.7) scale(1 1.08)" font-size="18.3" text-anchor="start" font-family="Liberation Serif, serif" >=</text>
<text transform="translate(121.4 176) scale(1 1.08)" font-size="18.3" text-anchor="start" font-family="Liberation Serif, serif" >600</text>
<text transform="translate(74.6 208.8) scale(1 1.08)" font-size="17.9" text-anchor="start" font-family="Liberation Serif, serif" >G</text>
<text transform="translate(87.8 215.4) scale(1 1.08)" font-size="13.2" text-anchor="start" font-family="Liberation Serif, serif" >2</text>
<text transform="translate(198.4 287.6) scale(1 1.08)" font-size="17.9" text-anchor="start" font-family="Liberation Serif, serif" >G</text>
<text transform="translate(210.8 295) scale(1 1.08)" font-size="13.2" text-anchor="start" font-family="Liberation Serif, serif" >1</text>
<path d="M98.9 200.9 C 112 190.5, 140 187, 173.5 193.2" fill="none" stroke="#000" stroke-width="1.4"/>
<polygon points="180,194.5 171.1,195.68 172.23,189.99" fill="#000"/>
<path d="M191.2 277.3 C 176 272, 164 260, 159.2 246.5" fill="none" stroke="#000" stroke-width="1.4"/>
<polygon points="157.2,240.2 162.39,247.47 157.15,249.13" fill="#000"/>
<path d="M451.46 321.65V322.65M449.86 321.65H453.06M449.86 322.65H453.06M454.21 321.45V322.45M452.61 321.45H455.81M452.61 322.45H455.81M456.97 321.2V322.2M455.37 321.2H458.57M455.37 322.2H458.57M459.72 320.9V321.97M458.12 320.9H461.32M458.12 321.97H461.32" fill="none" stroke="#545454" stroke-width="1.35"/>
<path d="M451.46 322.15h0M454.21 321.95h0M456.97 321.7h0M459.72 321.44h0" fill="none" stroke="#545454" stroke-width="2" stroke-linecap="round"/>
<path d="M297.18 321.1V324.1M299.93 321.1V324.1M302.69 321.1V324.1M305.44 321.1V324.1M308.2 321.1V324.1M310.95 321.1V324.1M313.71 321.1V324.1M316.46 321.1V324.1M319.22 321.1V324.1M321.97 321.1V324.1M324.73 321.1V324.1M327.48 321.1V324.1M330.24 321.1V324.1M332.99 321.1V324.1M335.75 321.1V324.1M338.5 321.1V324.1M341.26 321.1V324.1M344.01 321.1V324.1M346.77 321.1V324.1M349.52 321.1V324.1M352.28 321.1V324.1M355.03 321.1V324.1M357.79 321.1V324.1M360.54 321.1V324.1M363.3 321.1V324.1M366.05 321.1V324.1M368.81 321.1V324.1M371.56 321.1V324.1M374.32 321.1V324.1M377.07 321.1V324.1M379.83 321.1V324.1M382.58 321.1V324.1M385.34 321.1V324.1M388.09 321.1V324.1M390.85 321.1V324.1M393.6 321.1V324.1M396.36 321.1V324.1M399.11 321.1V324.1M401.87 321.1V324.1M404.62 321.1V324.1M407.38 321.1V324.1M410.13 321.1V324.1M412.89 321.1V324.1M415.64 321.1V324.1M418.4 321.1V324.1M421.15 321.1V324.1M423.91 321.1V324.1M426.66 321.1V324.1M429.42 321.1V324.1M432.17 321.1V324.1M434.93 321.1V324.1M437.68 321.1V324.1M440.44 321.1V324.1M443.19 321.1V324.1M445.95 321.1V324.1M448.7 321.1V324.1" fill="none" stroke="#545454" stroke-width="0.8"/>
<path d="M417.02 321.59V322.59M415.42 321.59H418.62M415.42 322.59H418.62M419.78 321.31V322.31M418.18 321.31H421.38M418.18 322.31H421.38M422.53 320.95V321.99M420.93 320.95H424.13M420.93 321.99H424.13M425.29 320.39V321.73M423.69 320.39H426.89M423.69 321.73H426.89M428.04 319.75V321.41M426.44 319.75H429.64M426.44 321.41H429.64M430.8 319.05V321M429.19 319.05H432.4M429.19 321H432.4M433.55 318.28V320.52M431.95 318.28H435.15M431.95 320.52H435.15M436.31 317.46V319.96M434.7 317.46H437.91M434.7 319.96H437.91M439.06 316.57V319.3M437.46 316.57H440.66M437.46 319.3H440.66M441.82 315.58V318.51M440.22 315.58H443.42M440.22 318.51H443.42M444.57 314.47V317.59M442.97 314.47H446.17M442.97 317.59H446.17M447.33 313.33V316.58M445.73 313.33H448.93M445.73 316.58H448.93M450.08 312.14V315.49M448.48 312.14H451.68M448.48 315.49H451.68M452.84 310.93V314.36M451.24 310.93H454.44M451.24 314.36H454.44M455.59 309.72V313.2M453.99 309.72H457.19M453.99 313.2H457.19M458.35 308.5V312.02M456.75 308.5H459.95M456.75 312.02H459.95M461.1 307.28V310.82M459.5 307.28H462.7M459.5 310.82H462.7" fill="none" stroke="#545454" stroke-width="1.35"/>
<path d="M417.02 322.09h0M419.78 321.81h0M422.53 321.47h0M425.29 321.06h0M428.04 320.58h0M430.8 320.02h0M433.55 319.4h0M436.31 318.71h0M439.06 317.93h0M441.82 317.05h0M444.57 316.03h0M447.33 314.96h0M450.08 313.82h0M452.84 312.64h0M455.59 311.46h0M458.35 310.26h0M461.1 309.05h0" fill="none" stroke="#545454" stroke-width="2" stroke-linecap="round"/>
<path d="M295.8 321.1V324.1M298.56 321.1V324.1M301.31 321.1V324.1M304.06 321.1V324.1M306.82 321.1V324.1M309.57 321.1V324.1M312.33 321.1V324.1M315.09 321.1V324.1M317.84 321.1V324.1M320.6 321.1V324.1M323.35 321.1V324.1M326.11 321.1V324.1M328.86 321.1V324.1M331.62 321.1V324.1M334.37 321.1V324.1M337.12 321.1V324.1M339.88 321.1V324.1M342.63 321.1V324.1M345.39 321.1V324.1M348.14 321.1V324.1M350.9 321.1V324.1M353.66 321.1V324.1M356.41 321.1V324.1M359.17 321.1V324.1M361.92 321.1V324.1M364.68 321.1V324.1M367.43 321.1V324.1M370.19 321.1V324.1M372.94 321.1V324.1M375.7 321.1V324.1M378.45 321.1V324.1M381.21 321.1V324.1M383.96 321.1V324.1M386.72 321.1V324.1M389.47 321.1V324.1M392.23 321.1V324.1M394.98 321.1V324.1M397.74 321.1V324.1M400.49 321.1V324.1M403.25 321.1V324.1M406 321.1V324.1M408.75 321.1V324.1M411.51 321.1V324.1M414.26 321.1V324.1" fill="none" stroke="#545454" stroke-width="0.8"/>
<path d="M399.11 321.69V322.69M397.51 321.69H400.71M397.51 322.69H400.71M401.87 321.15V322.15M400.27 321.15H403.47M400.27 322.15H403.47M404.62 320.08V321.58M403.02 320.08H406.22M403.02 321.58H406.22M407.38 318.37V320.58M405.78 318.37H408.98M405.78 320.58H408.98M410.13 316.38V319.15M408.53 316.38H411.73M408.53 319.15H411.73M412.89 314.04V317.21M411.29 314.04H414.49M411.29 317.21H414.49M415.64 311.52V314.91M414.04 311.52H417.24M414.04 314.91H417.24M418.4 308.81V312.31M416.8 308.81H420M416.8 312.31H420M421.15 305.9V309.46M419.55 305.9H422.75M419.55 309.46H422.75M423.91 302.75V306.34M422.31 302.75H425.51M422.31 306.34H425.51M426.66 299.43V303.03M425.06 299.43H428.26M425.06 303.03H428.26M429.42 296.11V299.71M427.82 296.11H431.02M427.82 299.71H431.02M432.17 292.76V296.36M430.57 292.76H433.77M430.57 296.36H433.77M434.93 289.56V293.16M433.33 289.56H436.53M433.33 293.16H436.53M437.68 286.48V290.08M436.08 286.48H439.28M436.08 290.08H439.28M440.44 283.69V287.29M438.84 283.69H442.04M438.84 287.29H442.04M443.19 281.18V284.78M441.59 281.18H444.79M441.59 284.78H444.79M445.95 278.84V282.44M444.35 278.84H447.55M444.35 282.44H447.55M448.7 276.66V280.26M447.1 276.66H450.3M447.1 280.26H450.3M451.46 274.6V278.2M449.86 274.6H453.06M449.86 278.2H453.06M454.21 272.66V276.26M452.61 272.66H455.81M452.61 276.26H455.81M456.97 270.84V274.44M455.37 270.84H458.57M455.37 274.44H458.57M459.72 269.13V272.73M458.12 269.13H461.32M458.12 272.73H461.32" fill="none" stroke="#545454" stroke-width="1.35"/>
<path d="M399.11 322.19h0M401.87 321.65h0M404.62 320.83h0M407.38 319.47h0M410.13 317.76h0M412.89 315.63h0M415.64 313.21h0M418.4 310.56h0M421.15 307.68h0M423.91 304.54h0M426.66 301.23h0M429.42 297.91h0M432.17 294.56h0M434.93 291.36h0M437.68 288.28h0M440.44 285.49h0M443.19 282.98h0M445.95 280.64h0M448.7 278.46h0M451.46 276.4h0M454.21 274.46h0M456.97 272.64h0M459.72 270.93h0" fill="none" stroke="#545454" stroke-width="2" stroke-linecap="round"/>
<path d="M297.18 321.1V324.1M299.93 321.1V324.1M302.69 321.1V324.1M305.44 321.1V324.1M308.2 321.1V324.1M310.95 321.1V324.1M313.71 321.1V324.1M316.46 321.1V324.1M319.22 321.1V324.1M321.97 321.1V324.1M324.73 321.1V324.1M327.48 321.1V324.1M330.24 321.1V324.1M332.99 321.1V324.1M335.75 321.1V324.1M338.5 321.1V324.1M341.26 321.1V324.1M344.01 321.1V324.1M346.77 321.1V324.1M349.52 321.1V324.1M352.28 321.1V324.1M355.03 321.1V324.1M357.79 321.1V324.1M360.54 321.1V324.1M363.3 321.1V324.1M366.05 321.1V324.1M368.81 321.1V324.1M371.56 321.1V324.1M374.32 321.1V324.1M377.07 321.1V324.1M379.83 321.1V324.1M382.58 321.1V324.1M385.34 321.1V324.1M388.09 321.1V324.1M390.85 321.1V324.1M393.6 321.1V324.1M396.36 321.1V324.1" fill="none" stroke="#545454" stroke-width="0.8"/>
<path d="M356.41 321.57V322.57M354.81 321.57H358.01M354.81 322.57H358.01M359.17 320.76V321.91M357.56 320.76H360.77M357.56 321.91H360.77M361.92 318.96V320.95M360.32 318.96H363.52M360.32 320.95H363.52M364.68 316.79V319.46M363.07 316.79H366.28M363.07 319.46H366.28M367.43 313.65V316.87M365.83 313.65H369.03M365.83 316.87H369.03M370.19 309.85V313.33M368.58 309.85H371.79M368.58 313.33H371.79M372.94 305.76V309.32M371.34 305.76H374.54M371.34 309.32H374.54M375.7 301.63V305.25M374.1 301.63H377.3M374.1 305.25H377.3M378.45 296.88V300.81M376.85 296.88H380.05M376.85 300.81H380.05M381.21 292.12V296.01M379.61 292.12H382.81M379.61 296.01H382.81M383.96 287.39V291.31M382.36 287.39H385.56M382.36 291.31H385.56M386.72 282.62V286.55M385.12 282.62H388.32M385.12 286.55H388.32M389.47 277.86V281.79M387.87 277.86H391.07M387.87 281.79H391.07M392.23 273.1V277.02M390.62 273.1H393.83M390.62 277.02H393.83M394.98 268.3V272.3M393.38 268.3H396.58M393.38 272.3H396.58M397.74 263.07V267.26M396.13 263.07H399.34M396.13 267.26H399.34M400.49 258.67V262.27M398.89 258.67H402.09M398.89 262.27H402.09M403.25 255.43V259.03M401.64 255.43H404.85M401.64 259.03H404.85M406 252.77V256.37M404.4 252.77H407.6M404.4 256.37H407.6M408.75 250.75V254.35M407.15 250.75H410.36M407.15 254.35H410.36M411.51 249.44V253.04M409.91 249.44H413.11M409.91 253.04H413.11M414.26 248.32V251.92M412.66 248.32H415.87M412.66 251.92H415.87M417.02 247.45V251.05M415.42 247.45H418.62M415.42 251.05H418.62M419.78 246.99V250.59M418.18 246.99H421.38M418.18 250.59H421.38M422.53 247.08V250.68M420.93 247.08H424.13M420.93 250.68H424.13M425.29 247.71V251.31M423.69 247.71H426.89M423.69 251.31H426.89M428.04 248.71V252.31M426.44 248.71H429.64M426.44 252.31H429.64M430.8 249.93V253.53M429.19 249.93H432.4M429.19 253.53H432.4M433.55 251.33V254.93M431.95 251.33H435.15M431.95 254.93H435.15M436.31 253.47V257.07M434.7 253.47H437.91M434.7 257.07H437.91M439.06 255.9V259.5M437.46 255.9H440.66M437.46 259.5H440.66M441.82 258.06V261.66M440.22 258.06H443.42M440.22 261.66H443.42M444.57 260.15V263.75M442.97 260.15H446.17M442.97 263.75H446.17M447.33 262.24V265.84M445.73 262.24H448.93M445.73 265.84H448.93M450.08 264.33V267.93M448.48 264.33H451.68M448.48 267.93H451.68M452.84 266.44V270.04M451.24 266.44H454.44M451.24 270.04H454.44M455.59 268.56V272.16M453.99 268.56H457.19M453.99 272.16H457.19M458.35 270.68V274.28M456.75 270.68H459.95M456.75 274.28H459.95M461.1 272.8V276.4M459.5 272.8H462.7M459.5 276.4H462.7" fill="none" stroke="#545454" stroke-width="1.35"/>
<path d="M356.41 322.07h0M359.17 321.34h0M361.92 319.95h0M364.68 318.13h0M367.43 315.26h0M370.19 311.59h0M372.94 307.54h0M375.7 303.44h0M378.45 298.85h0M381.21 294.06h0M383.96 289.35h0M386.72 284.58h0M389.47 279.82h0M392.23 275.06h0M394.98 270.3h0M397.74 265.17h0M400.49 260.47h0M403.25 257.23h0M406 254.57h0M408.75 252.55h0M411.51 251.24h0M414.26 250.12h0M417.02 249.25h0M419.78 248.79h0M422.53 248.88h0M425.29 249.51h0M428.04 250.51h0M430.8 251.73h0M433.55 253.13h0M436.31 255.27h0M439.06 257.7h0M441.82 259.86h0M444.57 261.95h0M447.33 264.04h0M450.08 266.13h0M452.84 268.24h0M455.59 270.36h0M458.35 272.48h0M461.1 274.6h0" fill="none" stroke="#545454" stroke-width="2" stroke-linecap="round"/>
<path d="M295.8 321.1V324.1M298.56 321.1V324.1M301.31 321.1V324.1M304.06 321.1V324.1M306.82 321.1V324.1M309.57 321.1V324.1M312.33 321.1V324.1M315.09 321.1V324.1M317.84 321.1V324.1M320.6 321.1V324.1M323.35 321.1V324.1M326.11 321.1V324.1M328.86 321.1V324.1M331.62 321.1V324.1M334.37 321.1V324.1M337.12 321.1V324.1M339.88 321.1V324.1M342.63 321.1V324.1M345.39 321.1V324.1M348.14 321.1V324.1M350.9 321.1V324.1M353.66 321.1V324.1" fill="none" stroke="#545454" stroke-width="0.8"/>
<path d="M357.79 321.45V322.45M356.19 321.45H359.39M356.19 322.45H359.39M360.54 320.59V321.83M358.94 320.59H362.14M358.94 321.83H362.14M363.3 318.9V320.91M361.7 318.9H364.9M361.7 320.91H364.9M366.05 316.41V319.17M364.45 316.41H367.65M364.45 319.17H367.65M368.81 309.94V314.91M367.21 309.94H370.41M367.21 314.91H370.41M371.56 302.26V307.94M369.96 302.26H373.16M369.96 307.94H373.16M374.32 293.84V300.5M372.72 293.84H375.92M372.72 300.5H375.92M377.07 284.12V291.25M375.47 284.12H378.67M375.47 291.25H378.67M379.83 275.22V281.75M378.23 275.22H381.43M378.23 281.75H381.43M382.58 266.69V273.08M380.98 266.69H384.18M380.98 273.08H384.18M385.34 258.23V264.6M383.74 258.23H386.94M383.74 264.6H386.94M388.09 249.27V256.1M386.49 249.27H389.69M386.49 256.1H389.69M390.85 241.93V247.01M389.25 241.93H392.45M389.25 247.01H392.45M393.6 236.84V240.76M392 236.84H395.2M392 240.76H395.2M396.36 233.6V237.2M394.76 233.6H397.96M394.76 237.2H397.96M399.11 231.53V235.13M397.51 231.53H400.71M397.51 235.13H400.71M401.87 231V234.6M400.27 231H403.47M400.27 234.6H403.47M404.62 232.29V235.89M403.02 232.29H406.22M403.02 235.89H406.22M407.38 234.14V237.74M405.78 234.14H408.98M405.78 237.74H408.98M410.13 236.49V240.09M408.53 236.49H411.73M408.53 240.09H411.73M412.89 239.26V242.86M411.29 239.26H414.49M411.29 242.86H414.49M415.64 242.01V245.61M414.04 242.01H417.24M414.04 245.61H417.24M418.4 244.71V248.31M416.8 244.71H420M416.8 248.31H420M421.15 247.46V251.06M419.55 247.46H422.75M419.55 251.06H422.75M423.91 250.28V253.88M422.31 250.28H425.51M422.31 253.88H425.51M426.66 253.18V256.78M425.06 253.18H428.26M425.06 256.78H428.26M429.42 256.19V259.79M427.82 256.19H431.02M427.82 259.79H431.02M432.17 259.31V262.91M430.57 259.31H433.77M430.57 262.91H433.77M434.93 262.52V266.12M433.33 262.52H436.53M433.33 266.12H436.53M437.68 265.77V269.37M436.08 265.77H439.28M436.08 269.37H439.28M440.44 269.01V272.61M438.84 269.01H442.04M438.84 272.61H442.04M443.19 272.4V276M441.59 272.4H444.79M441.59 276H444.79M445.95 275.81V279.41M444.35 275.81H447.55M444.35 279.41H447.55M448.7 278.97V282.57M447.1 278.97H450.3M447.1 282.57H450.3M451.46 281.71V285.31M449.86 281.71H453.06M449.86 285.31H453.06M454.21 284.19V287.79M452.61 284.19H455.81M452.61 287.79H455.81M456.97 286.42V290.02M455.37 286.42H458.57M455.37 290.02H458.57M459.72 288.43V292.03M458.12 288.43H461.32M458.12 292.03H461.32" fill="none" stroke="#545454" stroke-width="1.35"/>
<path d="M357.79 321.95h0M360.54 321.21h0M363.3 319.9h0M366.05 317.79h0M368.81 312.43h0M371.56 305.1h0M374.32 297.17h0M377.07 287.68h0M379.83 278.49h0M382.58 269.89h0M385.34 261.41h0M388.09 252.69h0M390.85 244.47h0M393.6 238.8h0M396.36 235.4h0M399.11 233.33h0M401.87 232.8h0M404.62 234.09h0M407.38 235.94h0M410.13 238.29h0M412.89 241.06h0M415.64 243.81h0M418.4 246.51h0M421.15 249.26h0M423.91 252.08h0M426.66 254.98h0M429.42 257.99h0M432.17 261.11h0M434.93 264.32h0M437.68 267.57h0M440.44 270.81h0M443.19 274.2h0M445.95 277.61h0M448.7 280.77h0M451.46 283.51h0M454.21 285.99h0M456.97 288.22h0M459.72 290.23h0" fill="none" stroke="#545454" stroke-width="2" stroke-linecap="round"/>
<path d="M297.18 321.1V324.1M299.93 321.1V324.1M302.69 321.1V324.1M305.44 321.1V324.1M308.2 321.1V324.1M310.95 321.1V324.1M313.71 321.1V324.1M316.46 321.1V324.1M319.22 321.1V324.1M321.97 321.1V324.1M324.73 321.1V324.1M327.48 321.1V324.1M330.24 321.1V324.1M332.99 321.1V324.1M335.75 321.1V324.1M338.5 321.1V324.1M341.26 321.1V324.1M344.01 321.1V324.1M346.77 321.1V324.1M349.52 321.1V324.1M352.28 321.1V324.1M355.03 321.1V324.1" fill="none" stroke="#545454" stroke-width="0.8"/>
<path d="M306.82 321.64V322.64M305.22 321.64H308.42M305.22 322.64H308.42M309.57 321.2V322.2M307.97 321.2H311.18M307.97 322.2H311.18M312.33 320.33V321.71M310.73 320.33H313.93M310.73 321.71H313.93M315.09 318.84V320.87M313.49 318.84H316.69M313.49 320.87H316.69M317.84 316.4V319.17M316.24 316.4H319.44M316.24 319.17H319.44M320.6 313.32V316.57M319 313.32H322.2M319 316.57H322.2M323.35 307.87V312.56M321.75 307.87H324.95M321.75 312.56H324.95M326.11 299.94V306.1M324.5 299.94H327.71M324.5 306.1H327.71M328.86 290.37V297.42M327.26 290.37H330.46M327.26 297.42H330.46M331.62 279.66V287.92M330.01 279.66H333.22M330.01 287.92H333.22M334.37 266.45V275.65M332.77 266.45H335.97M332.77 275.65H335.97M337.12 253.97V262.84M335.52 253.97H338.73M335.52 262.84H338.73M339.88 241.41V250.46M338.28 241.41H341.48M338.28 250.46H341.48M342.63 229.53V238.02M341.03 229.53H344.24M341.03 238.02H344.24M345.39 220.78V227.52M343.79 220.78H346.99M343.79 227.52H346.99M348.14 213.14V219.86M346.54 213.14H349.75M346.54 219.86H349.75M350.9 207.68V213.91M349.3 207.68H352.5M349.3 213.91H352.5M353.66 203.58V211.09M352.06 203.58H355.26M352.06 211.09H355.26M356.41 201.6V210.2M354.81 201.6H358.01M354.81 210.2H358.01M359.17 200.98V209.68M357.56 200.98H360.77M357.56 209.68H360.77M361.92 202.23V210.01M360.32 202.23H363.52M360.32 210.01H363.52M364.68 204.74V211.08M363.07 204.74H366.28M363.07 211.08H366.28M367.43 208.34V213.38M365.83 208.34H369.03M365.83 213.38H369.03M370.19 212.1V216.31M368.58 212.1H371.79M368.58 216.31H371.79M372.94 216.16V219.97M371.34 216.16H374.54M371.34 219.97H374.54M375.7 220V223.66M374.1 220H377.3M374.1 223.66H377.3M378.45 223.56V227.17M376.85 223.56H380.05M376.85 227.17H380.05M381.21 227.04V230.64M379.61 227.04H382.81M379.61 230.64H382.81M383.96 230.51V234.11M382.36 230.51H385.56M382.36 234.11H385.56M386.72 234.05V237.65M385.12 234.05H388.32M385.12 237.65H388.32M389.47 237.72V241.32M387.87 237.72H391.07M387.87 241.32H391.07M392.23 241.55V245.15M390.62 241.55H393.83M390.62 245.15H393.83M394.98 245.42V249.02M393.38 245.42H396.58M393.38 249.02H396.58M397.74 249.22V252.82M396.13 249.22H399.34M396.13 252.82H399.34M400.49 252.83V256.43M398.89 252.83H402.09M398.89 256.43H402.09M403.25 256.27V259.87M401.64 256.27H404.85M401.64 259.87H404.85M406 259.61V263.21M404.4 259.61H407.6M404.4 263.21H407.6M408.75 262.86V266.46M407.15 262.86H410.36M407.15 266.46H410.36M411.51 266.04V269.64M409.91 266.04H413.11M409.91 269.64H413.11M414.26 269.16V272.76M412.66 269.16H415.87M412.66 272.76H415.87M417.02 272.24V275.84M415.42 272.24H418.62M415.42 275.84H418.62M419.78 275.25V278.85M418.18 275.25H421.38M418.18 278.85H421.38M422.53 278.15V281.75M420.93 278.15H424.13M420.93 281.75H424.13M425.29 280.93V284.53M423.69 280.93H426.89M423.69 284.53H426.89M428.04 283.62V287.22M426.44 283.62H429.64M426.44 287.22H429.64M430.8 286.25V289.85M429.19 286.25H432.4M429.19 289.85H432.4M433.55 288.79V292.39M431.95 288.79H435.15M431.95 292.39H435.15M436.31 291.21V294.81M434.7 291.21H437.91M434.7 294.81H437.91M439.06 293.47V297.07M437.46 293.47H440.66M437.46 297.07H440.66M441.82 295.58V299.18M440.22 295.58H443.42M440.22 299.18H443.42M444.57 297.61V301.21M442.97 297.61H446.17M442.97 301.21H446.17M447.33 299.56V303.16M445.73 299.56H448.93M445.73 303.16H448.93M450.08 301.42V305.01M448.48 301.42H451.68M448.48 305.01H451.68M452.84 303.19V306.77M451.24 303.19H454.44M451.24 306.77H454.44M455.59 304.84V308.41M453.99 304.84H457.19M453.99 308.41H457.19M458.35 306.38V309.93M456.75 306.38H459.95M456.75 309.93H459.95M461.1 307.87V311.4M459.5 307.87H462.7M459.5 311.4H462.7" fill="none" stroke="#545454" stroke-width="1.35"/>
<path d="M306.82 322.14h0M309.57 321.7h0M312.33 321.02h0M315.09 319.86h0M317.84 317.79h0M320.6 314.94h0M323.35 310.21h0M326.11 303.02h0M328.86 293.9h0M331.62 283.79h0M334.37 271.05h0M337.12 258.4h0M339.88 245.94h0M342.63 233.78h0M345.39 224.15h0M348.14 216.5h0M350.9 210.79h0M353.66 207.33h0M356.41 205.9h0M359.17 205.33h0M361.92 206.12h0M364.68 207.91h0M367.43 210.86h0M370.19 214.2h0M372.94 218.07h0M375.7 221.83h0M378.45 225.36h0M381.21 228.84h0M383.96 232.31h0M386.72 235.85h0M389.47 239.52h0M392.23 243.35h0M394.98 247.22h0M397.74 251.02h0M400.49 254.63h0M403.25 258.07h0M406 261.41h0M408.75 264.66h0M411.51 267.84h0M414.26 270.96h0M417.02 274.04h0M419.78 277.05h0M422.53 279.95h0M425.29 282.73h0M428.04 285.42h0M430.8 288.05h0M433.55 290.59h0M436.31 293.01h0M439.06 295.27h0M441.82 297.38h0M444.57 299.41h0M447.33 301.36h0M450.08 303.22h0M452.84 304.98h0M455.59 306.63h0M458.35 308.15h0M461.1 309.64h0" fill="none" stroke="#545454" stroke-width="2" stroke-linecap="round"/>
<path d="M295.8 321.1V324.1M298.56 321.1V324.1M301.31 321.1V324.1M304.06 321.1V324.1" fill="none" stroke="#545454" stroke-width="0.8"/>
<line x1="295.8" y1="322.6" x2="461.1" y2="158.2" stroke="#000" stroke-width="1.4" />
<path d="M418.12 322.33 L418.4 322.31 L418.67 322.29 L418.95 322.27 L419.22 322.25 L419.5 322.23 L419.78 322.2 L420.05 322.18 L420.33 322.15 L420.6 322.13 L420.88 322.1 L421.15 322.07 L421.43 322.05 L421.7 322.02 L421.98 321.99 L422.25 321.96 L422.53 321.93 L422.81 321.9 L423.08 321.87 L423.36 321.84 L423.63 321.81 L423.91 321.78 L424.18 321.75 L424.46 321.71 L424.73 321.68 L425.01 321.65 L425.29 321.61 L425.56 321.58 L425.84 321.54 L426.11 321.5 L426.39 321.46 L426.66 321.42 L426.94 321.38 L427.21 321.34 L427.49 321.3 L427.76 321.26 L428.04 321.22 L428.32 321.18 L428.59 321.13 L428.87 321.09 L429.14 321.05 L429.42 321 L429.69 320.96 L429.97 320.91 L430.24 320.86 L430.52 320.82 L430.8 320.77 L431.07 320.72 L431.35 320.67 L431.62 320.62 L431.9 320.57 L432.17 320.52 L432.45 320.46 L432.72 320.41 L433 320.36 L433.27 320.3 L433.55 320.25 L433.83 320.19 L434.1 320.13 L434.38 320.08 L434.65 320.02 L434.93 319.96 L435.2 319.9 L435.48 319.84 L435.75 319.78 L436.03 319.72 L436.31 319.66 L436.58 319.6 L436.86 319.54 L437.13 319.48 L437.41 319.41 L437.68 319.35 L437.96 319.29 L438.23 319.22 L438.51 319.15 L438.78 319.09 L439.06 319.02 L439.34 318.95 L439.61 318.88 L439.89 318.81 L440.16 318.74 L440.44 318.67 L440.71 318.59 L440.99 318.52 L441.26 318.45 L441.54 318.37 L441.82 318.29 L442.09 318.22 L442.37 318.14 L442.64 318.06 L442.92 317.97 L443.19 317.89 L443.47 317.81 L443.74 317.72 L444.02 317.63 L444.29 317.54 L444.57 317.45 L444.85 317.36 L445.12 317.27 L445.4 317.18 L445.67 317.08 L445.95 316.99 L446.22 316.9 L446.5 316.8 L446.77 316.7 L447.05 316.61 L447.33 316.51 L447.6 316.41 L447.88 316.32 L448.15 316.22 L448.43 316.12 L448.7 316.02 L448.98 315.93 L449.25 315.83 L449.53 315.73 L449.8 315.63 L450.08 315.52 L450.36 315.42 L450.63 315.32 L450.91 315.21 L451.18 315.11 L451.46 315 L451.73 314.9 L452.01 314.79 L452.28 314.69 L452.56 314.58 L452.84 314.47 L453.11 314.37 L453.39 314.26 L453.66 314.15 L453.94 314.05 L454.21 313.94 L454.49 313.83 L454.76 313.73 L455.04 313.62 L455.31 313.51 L455.59 313.41 L455.87 313.3 L456.14 313.19 L456.42 313.08 L456.69 312.98 L456.97 312.87 L457.24 312.76 L457.52 312.65 L457.79 312.54 L458.07 312.43 L458.35 312.33 L458.62 312.22 L458.9 312.11 L459.17 312 L459.45 311.89 L459.72 311.78 L460 311.67 L460.27 311.56 L460.55 311.45 L460.82 311.34 L461.1 311.23" fill="none" stroke="#0000ff" stroke-width="1.6" stroke-linejoin="round" />
<path d="M399.66 322.35 L399.94 322.32 L400.21 322.3 L400.49 322.27 L400.77 322.24 L401.04 322.21 L401.32 322.17 L401.59 322.13 L401.87 322.09 L402.14 322.04 L402.42 321.99 L402.69 321.94 L402.97 321.88 L403.25 321.82 L403.52 321.75 L403.8 321.68 L404.07 321.62 L404.35 321.54 L404.62 321.47 L404.9 321.39 L405.17 321.31 L405.45 321.23 L405.72 321.15 L406 321.07 L406.28 320.98 L406.55 320.88 L406.83 320.77 L407.1 320.66 L407.38 320.54 L407.65 320.41 L407.93 320.28 L408.2 320.15 L408.48 320 L408.75 319.86 L409.03 319.7 L409.31 319.55 L409.58 319.39 L409.86 319.23 L410.13 319.06 L410.41 318.9 L410.68 318.73 L410.96 318.56 L411.23 318.39 L411.51 318.22 L411.79 318.04 L412.06 317.86 L412.34 317.67 L412.61 317.47 L412.89 317.27 L413.16 317.07 L413.44 316.86 L413.71 316.64 L413.99 316.42 L414.26 316.2 L414.54 315.97 L414.82 315.74 L415.09 315.51 L415.37 315.28 L415.64 315.04 L415.92 314.8 L416.19 314.56 L416.47 314.32 L416.74 314.07 L417.02 313.83 L417.3 313.59 L417.57 313.34 L417.85 313.09 L418.12 312.83 L418.4 312.58 L418.67 312.32 L418.95 312.05 L419.22 311.79 L419.5 311.52 L419.78 311.25 L420.05 310.97 L420.33 310.7 L420.6 310.42 L420.88 310.14 L421.15 309.86 L421.43 309.57 L421.7 309.29 L421.98 309 L422.25 308.71 L422.53 308.41 L422.81 308.12 L423.08 307.83 L423.36 307.53 L423.63 307.23 L423.91 306.93 L424.18 306.62 L424.46 306.31 L424.73 305.99 L425.01 305.68 L425.29 305.36 L425.56 305.03 L425.84 304.71 L426.11 304.38 L426.39 304.05 L426.66 303.72 L426.94 303.39 L427.21 303.06 L427.49 302.72 L427.76 302.39 L428.04 302.06 L428.32 301.73 L428.59 301.39 L428.87 301.06 L429.14 300.73 L429.42 300.41 L429.69 300.08 L429.97 299.75 L430.24 299.42 L430.52 299.08 L430.8 298.75 L431.07 298.41 L431.35 298.08 L431.62 297.74 L431.9 297.4 L432.17 297.07 L432.45 296.73 L432.72 296.39 L433 296.06 L433.27 295.72 L433.55 295.39 L433.83 295.05 L434.1 294.72 L434.38 294.39 L434.65 294.06 L434.93 293.74 L435.2 293.42 L435.48 293.09 L435.75 292.78 L436.03 292.46 L436.31 292.15 L436.58 291.83 L436.86 291.52 L437.13 291.2 L437.41 290.89 L437.68 290.58 L437.96 290.27 L438.23 289.96 L438.51 289.65 L438.78 289.34 L439.06 289.04 L439.34 288.73 L439.61 288.43 L439.89 288.14 L440.16 287.84 L440.44 287.55 L440.71 287.26 L440.99 286.98 L441.26 286.7 L441.54 286.42 L441.82 286.15 L442.09 285.88 L442.37 285.62 L442.64 285.36 L442.92 285.1 L443.19 284.84 L443.47 284.59 L443.74 284.33 L444.02 284.08 L444.29 283.83 L444.57 283.59 L444.85 283.34 L445.12 283.1 L445.4 282.85 L445.67 282.61 L445.95 282.38 L446.22 282.14 L446.5 281.91 L446.77 281.67 L447.05 281.44 L447.33 281.21 L447.6 280.98 L447.88 280.76 L448.15 280.53 L448.43 280.31 L448.7 280.08 L448.98 279.86 L449.25 279.64 L449.53 279.43 L449.8 279.21 L450.08 279 L450.36 278.78 L450.63 278.57 L450.91 278.36 L451.18 278.15 L451.46 277.94 L451.73 277.73 L452.01 277.52 L452.28 277.32 L452.56 277.11 L452.84 276.91 L453.11 276.71 L453.39 276.5 L453.66 276.3 L453.94 276.11 L454.21 275.91 L454.49 275.71 L454.76 275.51 L455.04 275.32 L455.31 275.13 L455.59 274.93 L455.87 274.74 L456.14 274.55 L456.42 274.36 L456.69 274.18 L456.97 273.99 L457.24 273.81 L457.52 273.62 L457.79 273.44 L458.07 273.26 L458.35 273.08 L458.62 272.9 L458.9 272.73 L459.17 272.55 L459.45 272.38 L459.72 272.2 L460 272.03 L460.27 271.86 L460.55 271.69 L460.82 271.53 L461.1 271.36" fill="none" stroke="#00ff00" stroke-width="1.6" stroke-dasharray="3.6 3" stroke-linejoin="round" />
<path d="M356.13 322.33 L356.41 322.3 L356.69 322.27 L356.96 322.24 L357.24 322.21 L357.51 322.18 L357.79 322.15 L358.06 322.12 L358.34 322.09 L358.61 322.05 L358.89 322.01 L359.17 321.96 L359.44 321.91 L359.72 321.84 L359.99 321.77 L360.27 321.68 L360.54 321.59 L360.82 321.5 L361.09 321.39 L361.37 321.28 L361.64 321.16 L361.92 321.04 L362.2 320.91 L362.47 320.78 L362.75 320.64 L363.02 320.49 L363.3 320.34 L363.57 320.19 L363.85 320.03 L364.12 319.87 L364.4 319.71 L364.68 319.55 L364.95 319.38 L365.23 319.21 L365.5 319.04 L365.78 318.86 L366.05 318.67 L366.33 318.46 L366.6 318.24 L366.88 318.01 L367.15 317.76 L367.43 317.51 L367.71 317.24 L367.98 316.96 L368.26 316.68 L368.53 316.38 L368.81 316.07 L369.08 315.75 L369.36 315.43 L369.63 315.09 L369.91 314.75 L370.19 314.4 L370.46 314.05 L370.74 313.68 L371.01 313.31 L371.29 312.94 L371.56 312.56 L371.84 312.17 L372.11 311.78 L372.39 311.39 L372.66 310.99 L372.94 310.59 L373.22 310.19 L373.49 309.79 L373.77 309.38 L374.04 308.97 L374.32 308.56 L374.59 308.15 L374.87 307.74 L375.14 307.33 L375.42 306.92 L375.7 306.52 L375.97 306.11 L376.25 305.71 L376.52 305.3 L376.8 304.9 L377.07 304.5 L377.35 304.08 L377.62 303.66 L377.9 303.23 L378.17 302.79 L378.45 302.34 L378.73 301.89 L379 301.43 L379.28 300.97 L379.55 300.5 L379.83 300.03 L380.1 299.56 L380.38 299.09 L380.65 298.61 L380.93 298.13 L381.21 297.65 L381.48 297.17 L381.76 296.68 L382.03 296.2 L382.31 295.72 L382.58 295.25 L382.86 294.77 L383.13 294.3 L383.41 293.83 L383.68 293.36 L383.96 292.89 L384.24 292.42 L384.51 291.95 L384.79 291.48 L385.06 291.01 L385.34 290.54 L385.61 290.06 L385.89 289.59 L386.16 289.11 L386.44 288.64 L386.72 288.16 L386.99 287.68 L387.27 287.21 L387.54 286.73 L387.82 286.25 L388.09 285.78 L388.37 285.3 L388.64 284.82 L388.92 284.35 L389.19 283.87 L389.47 283.39 L389.75 282.92 L390.02 282.44 L390.3 281.96 L390.57 281.49 L390.85 281.01 L391.12 280.54 L391.4 280.06 L391.67 279.59 L391.95 279.11 L392.23 278.63 L392.5 278.16 L392.78 277.68 L393.05 277.2 L393.33 276.73 L393.6 276.25 L393.88 275.77 L394.15 275.3 L394.43 274.82 L394.7 274.35 L394.98 273.87 L395.26 273.39 L395.53 272.92 L395.81 272.44 L396.08 271.97 L396.36 271.49 L396.63 271.01 L396.91 270.54 L397.18 270.06 L397.46 269.57 L397.74 269.07 L398.01 268.56 L398.29 268.04 L398.56 267.52 L398.84 267 L399.11 266.47 L399.39 265.95 L399.66 265.43 L399.94 264.91 L400.21 264.4 L400.49 263.89 L400.77 263.39 L401.04 262.9 L401.32 262.43 L401.59 261.96 L401.87 261.52 L402.14 261.08 L402.42 260.67 L402.69 260.28 L402.97 259.91 L403.25 259.56 L403.52 259.23 L403.8 258.91 L404.07 258.6 L404.35 258.29 L404.62 257.98 L404.9 257.68 L405.17 257.38 L405.45 257.09 L405.72 256.8 L406 256.52 L406.28 256.24 L406.55 255.96 L406.83 255.7 L407.1 255.43 L407.38 255.18 L407.65 254.93 L407.93 254.69 L408.2 254.45 L408.48 254.22 L408.75 253.99 L409.03 253.78 L409.31 253.57 L409.58 253.36 L409.86 253.17 L410.13 252.98 L410.41 252.8 L410.68 252.63 L410.96 252.47 L411.23 252.32 L411.51 252.17 L411.79 252.04 L412.06 251.91 L412.34 251.79 L412.61 251.66 L412.89 251.54 L413.16 251.42 L413.44 251.3 L413.71 251.18 L413.99 251.06 L414.26 250.94 L414.54 250.83 L414.82 250.71 L415.09 250.6 L415.37 250.49 L415.64 250.38 L415.92 250.28 L416.19 250.17 L416.47 250.07 L416.74 249.97 L417.02 249.87 L417.3 249.78 L417.57 249.69 L417.85 249.6 L418.12 249.52 L418.4 249.44 L418.67 249.36 L418.95 249.29 L419.22 249.22 L419.5 249.15 L419.78 249.09 L420.05 249.04 L420.33 248.99 L420.6 248.94 L420.88 248.9 L421.15 248.86 L421.43 248.83 L421.7 248.8 L421.98 248.78 L422.25 248.77 L422.53 248.76 L422.81 248.76 L423.08 248.76 L423.36 248.77 L423.63 248.78 L423.91 248.81 L424.18 248.83 L424.46 248.87 L424.73 248.9 L425.01 248.95 L425.29 249 L425.56 249.05 L425.84 249.11 L426.11 249.17 L426.39 249.24 L426.66 249.31 L426.94 249.39 L427.21 249.47 L427.49 249.55 L427.76 249.64 L428.04 249.73 L428.32 249.82 L428.59 249.92 L428.87 250.02 L429.14 250.13 L429.42 250.23 L429.69 250.34 L429.97 250.45 L430.24 250.57 L430.52 250.68 L430.8 250.8 L431.07 250.92 L431.35 251.04 L431.62 251.17 L431.9 251.29 L432.17 251.42 L432.45 251.54 L432.72 251.67 L433 251.8 L433.27 251.93 L433.55 252.06 L433.83 252.19 L434.1 252.32 L434.38 252.45 L434.65 252.58 L434.93 252.72 L435.2 252.87 L435.48 253.04 L435.75 253.21 L436.03 253.4 L436.31 253.59 L436.58 253.8 L436.86 254.01 L437.13 254.23 L437.41 254.45 L437.68 254.68 L437.96 254.91 L438.23 255.15 L438.51 255.39 L438.78 255.63 L439.06 255.88 L439.34 256.12 L439.61 256.37 L439.89 256.62 L440.16 256.86 L440.44 257.1 L440.71 257.35 L440.99 257.58 L441.26 257.82 L441.54 258.04 L441.82 258.27 L442.09 258.48 L442.37 258.7 L442.64 258.91 L442.92 259.12 L443.19 259.33 L443.47 259.55 L443.74 259.76 L444.02 259.97 L444.29 260.18 L444.57 260.39 L444.85 260.6 L445.12 260.81 L445.4 261.02 L445.67 261.22 L445.95 261.43 L446.22 261.64 L446.5 261.85 L446.77 262.06 L447.05 262.27 L447.33 262.48 L447.6 262.68 L447.88 262.89 L448.15 263.1 L448.43 263.31 L448.7 263.52 L448.98 263.72 L449.25 263.93 L449.53 264.14 L449.8 264.35 L450.08 264.56 L450.36 264.77 L450.63 264.98 L450.91 265.19 L451.18 265.4 L451.46 265.61 L451.73 265.82 L452.01 266.03 L452.28 266.24 L452.56 266.45 L452.84 266.66 L453.11 266.87 L453.39 267.08 L453.66 267.29 L453.94 267.5 L454.21 267.72 L454.49 267.93 L454.76 268.14 L455.04 268.35 L455.31 268.56 L455.59 268.77 L455.87 268.98 L456.14 269.19 L456.42 269.4 L456.69 269.62 L456.97 269.83 L457.24 270.04 L457.52 270.25 L457.79 270.46 L458.07 270.67 L458.35 270.89 L458.62 271.1 L458.9 271.31 L459.17 271.52 L459.45 271.73 L459.72 271.95 L460 272.16 L460.27 272.37 L460.55 272.58 L460.82 272.79 L461.1 273.01" fill="none" stroke="#00ff00" stroke-width="1.6" stroke-linejoin="round" />
<path d="M356.41 322.33 L356.69 322.31 L356.96 322.28 L357.24 322.26 L357.51 322.23 L357.79 322.2 L358.06 322.17 L358.34 322.14 L358.61 322.11 L358.89 322.08 L359.17 322.05 L359.44 322.02 L359.72 321.98 L359.99 321.93 L360.27 321.88 L360.54 321.82 L360.82 321.76 L361.09 321.69 L361.37 321.61 L361.64 321.53 L361.92 321.45 L362.2 321.36 L362.47 321.26 L362.75 321.16 L363.02 321.05 L363.3 320.93 L363.57 320.81 L363.85 320.69 L364.12 320.56 L364.4 320.42 L364.68 320.28 L364.95 320.13 L365.23 319.98 L365.5 319.82 L365.78 319.66 L366.05 319.49 L366.33 319.32 L366.6 319.14 L366.88 318.95 L367.15 318.76 L367.43 318.55 L367.71 318.28 L367.98 317.96 L368.26 317.61 L368.53 317.2 L368.81 316.76 L369.08 316.28 L369.36 315.77 L369.63 315.22 L369.91 314.65 L370.19 314.04 L370.46 313.41 L370.74 312.76 L371.01 312.09 L371.29 311.39 L371.56 310.69 L371.84 309.96 L372.11 309.23 L372.39 308.49 L372.66 307.74 L372.94 306.99 L373.22 306.23 L373.49 305.48 L373.77 304.73 L374.04 303.98 L374.32 303.25 L374.59 302.52 L374.87 301.77 L375.14 300.99 L375.42 300.18 L375.7 299.35 L375.97 298.49 L376.25 297.62 L376.52 296.72 L376.8 295.81 L377.07 294.88 L377.35 293.94 L377.62 292.99 L377.9 292.04 L378.17 291.07 L378.45 290.11 L378.73 289.14 L379 288.17 L379.28 287.2 L379.55 286.24 L379.83 285.28 L380.1 284.34 L380.38 283.4 L380.65 282.48 L380.93 281.57 L381.21 280.68 L381.48 279.8 L381.76 278.92 L382.03 278.05 L382.31 277.18 L382.58 276.31 L382.86 275.45 L383.13 274.59 L383.41 273.73 L383.68 272.87 L383.96 272.02 L384.24 271.16 L384.51 270.31 L384.79 269.46 L385.06 268.61 L385.34 267.76 L385.61 266.92 L385.89 266.07 L386.16 265.22 L386.44 264.38 L386.72 263.53 L386.99 262.68 L387.27 261.84 L387.54 260.99 L387.82 260.14 L388.09 259.29 L388.37 258.44 L388.64 257.59 L388.92 256.74 L389.19 255.87 L389.47 254.98 L389.75 254.07 L390.02 253.15 L390.3 252.22 L390.57 251.29 L390.85 250.38 L391.12 249.47 L391.4 248.59 L391.67 247.74 L391.95 246.93 L392.23 246.16 L392.5 245.44 L392.78 244.78 L393.05 244.16 L393.33 243.54 L393.6 242.93 L393.88 242.33 L394.15 241.74 L394.43 241.17 L394.7 240.61 L394.98 240.07 L395.26 239.55 L395.53 239.04 L395.81 238.57 L396.08 238.11 L396.36 237.69 L396.63 237.29 L396.91 236.92 L397.18 236.58 L397.46 236.28 L397.74 236.02 L398.01 235.77 L398.29 235.52 L398.56 235.28 L398.84 235.04 L399.11 234.8 L399.39 234.58 L399.66 234.36 L399.94 234.14 L400.21 233.94 L400.49 233.75 L400.77 233.57 L401.04 233.41 L401.32 233.26 L401.59 233.13 L401.87 233.01 L402.14 232.91 L402.42 232.83 L402.69 232.78 L402.97 232.74 L403.25 232.73 L403.52 232.74 L403.8 232.77 L404.07 232.83 L404.35 232.9 L404.62 232.99 L404.9 233.1 L405.17 233.22 L405.45 233.36 L405.72 233.5 L406 233.66 L406.28 233.83 L406.55 234 L406.83 234.18 L407.1 234.36 L407.38 234.55 L407.65 234.74 L407.93 234.92 L408.2 235.11 L408.48 235.29 L408.75 235.47 L409.03 235.65 L409.31 235.84 L409.58 236.04 L409.86 236.24 L410.13 236.46 L410.41 236.68 L410.68 236.91 L410.96 237.15 L411.23 237.39 L411.51 237.64 L411.79 237.9 L412.06 238.16 L412.34 238.42 L412.61 238.69 L412.89 238.96 L413.16 239.24 L413.44 239.51 L413.71 239.79 L413.99 240.07 L414.26 240.36 L414.54 240.64 L414.82 240.92 L415.09 241.2 L415.37 241.49 L415.64 241.77 L415.92 242.05 L416.19 242.32 L416.47 242.6 L416.74 242.87 L417.02 243.14 L417.3 243.41 L417.57 243.67 L417.85 243.94 L418.12 244.21 L418.4 244.48 L418.67 244.75 L418.95 245.02 L419.22 245.29 L419.5 245.56 L419.78 245.83 L420.05 246.1 L420.33 246.37 L420.6 246.64 L420.88 246.92 L421.15 247.19 L421.43 247.46 L421.7 247.74 L421.98 248.01 L422.25 248.29 L422.53 248.57 L422.81 248.84 L423.08 249.12 L423.36 249.4 L423.63 249.68 L423.91 249.96 L424.18 250.24 L424.46 250.52 L424.73 250.8 L425.01 251.09 L425.29 251.37 L425.56 251.65 L425.84 251.94 L426.11 252.22 L426.39 252.51 L426.66 252.8 L426.94 253.09 L427.21 253.38 L427.49 253.67 L427.76 253.96 L428.04 254.25 L428.32 254.54 L428.59 254.83 L428.87 255.13 L429.14 255.42 L429.42 255.72 L429.69 256.02 L429.97 256.32 L430.24 256.62 L430.52 256.92 L430.8 257.22 L431.07 257.53 L431.35 257.83 L431.62 258.14 L431.9 258.45 L432.17 258.76 L432.45 259.07 L432.72 259.38 L433 259.69 L433.27 260.01 L433.55 260.32 L433.83 260.64 L434.1 260.96 L434.38 261.27 L434.65 261.59 L434.93 261.91 L435.2 262.23 L435.48 262.55 L435.75 262.87 L436.03 263.19 L436.31 263.52 L436.58 263.84 L436.86 264.16 L437.13 264.49 L437.41 264.81 L437.68 265.13 L437.96 265.46 L438.23 265.78 L438.51 266.11 L438.78 266.43 L439.06 266.76 L439.34 267.08 L439.61 267.41 L439.89 267.73 L440.16 268.05 L440.44 268.38 L440.71 268.7 L440.99 269.02 L441.26 269.35 L441.54 269.67 L441.82 269.99 L442.09 270.32 L442.37 270.64 L442.64 270.97 L442.92 271.3 L443.19 271.64 L443.47 271.98 L443.74 272.31 L444.02 272.65 L444.29 273 L444.57 273.34 L444.85 273.68 L445.12 274.03 L445.4 274.37 L445.67 274.71 L445.95 275.06 L446.22 275.4 L446.5 275.74 L446.77 276.09 L447.05 276.43 L447.33 276.77 L447.6 277.1 L447.88 277.44 L448.15 277.77 L448.43 278.1 L448.7 278.43 L448.98 278.76 L449.25 279.08 L449.53 279.39 L449.8 279.71 L450.08 280.02 L450.36 280.32 L450.63 280.62 L450.91 280.92 L451.18 281.21 L451.46 281.49 L451.73 281.77 L452.01 282.05 L452.28 282.32 L452.56 282.59 L452.84 282.85 L453.11 283.11 L453.39 283.38 L453.66 283.63 L453.94 283.89 L454.21 284.15 L454.49 284.4 L454.76 284.65 L455.04 284.9 L455.31 285.14 L455.59 285.39 L455.87 285.63 L456.14 285.87 L456.42 286.11 L456.69 286.34 L456.97 286.57 L457.24 286.8 L457.52 287.03 L457.79 287.25 L458.07 287.47 L458.35 287.69 L458.62 287.9 L458.9 288.12 L459.17 288.33 L459.45 288.54 L459.72 288.74 L460 288.94 L460.27 289.14 L460.55 289.34 L460.82 289.53 L461.1 289.72" fill="none" stroke="#ff0000" stroke-width="1.6" stroke-dasharray="3.8 3" stroke-linejoin="round" />
<path d="M306.82 322.33 L307.1 322.31 L307.37 322.29 L307.65 322.27 L307.92 322.24 L308.2 322.22 L308.47 322.19 L308.75 322.16 L309.02 322.13 L309.3 322.09 L309.57 322.05 L309.85 322.01 L310.13 321.97 L310.4 321.92 L310.68 321.88 L310.95 321.83 L311.23 321.78 L311.5 321.72 L311.78 321.67 L312.05 321.61 L312.33 321.56 L312.61 321.5 L312.88 321.43 L313.16 321.36 L313.43 321.29 L313.71 321.22 L313.98 321.14 L314.26 321.06 L314.53 320.97 L314.81 320.88 L315.09 320.79 L315.36 320.69 L315.64 320.59 L315.91 320.48 L316.19 320.36 L316.46 320.23 L316.74 320.09 L317.01 319.94 L317.29 319.77 L317.56 319.6 L317.84 319.41 L318.12 319.21 L318.39 319.01 L318.67 318.8 L318.94 318.58 L319.22 318.36 L319.49 318.13 L319.77 317.9 L320.04 317.67 L320.32 317.43 L320.6 317.18 L320.87 316.92 L321.15 316.65 L321.42 316.37 L321.7 316.07 L321.97 315.77 L322.25 315.45 L322.52 315.12 L322.8 314.77 L323.07 314.41 L323.35 314.03 L323.63 313.62 L323.9 313.17 L324.18 312.69 L324.45 312.18 L324.73 311.65 L325 311.09 L325.28 310.51 L325.55 309.9 L325.83 309.27 L326.11 308.6 L326.38 307.92 L326.66 307.21 L326.93 306.48 L327.21 305.74 L327.48 304.98 L327.76 304.2 L328.03 303.42 L328.31 302.61 L328.58 301.77 L328.86 300.9 L329.14 300 L329.41 299.09 L329.69 298.16 L329.96 297.22 L330.24 296.27 L330.51 295.32 L330.79 294.37 L331.06 293.43 L331.34 292.47 L331.62 291.52 L331.89 290.55 L332.17 289.57 L332.44 288.57 L332.72 287.55 L332.99 286.51 L333.27 285.45 L333.54 284.35 L333.82 283.22 L334.09 282.05 L334.37 280.84 L334.65 279.59 L334.92 278.32 L335.2 277.02 L335.47 275.71 L335.75 274.39 L336.02 273.05 L336.3 271.72 L336.57 270.38 L336.85 269.06 L337.12 267.75 L337.4 266.46 L337.68 265.19 L337.95 263.94 L338.23 262.7 L338.5 261.46 L338.78 260.24 L339.05 259.01 L339.33 257.79 L339.6 256.56 L339.88 255.33 L340.16 254.1 L340.43 252.86 L340.71 251.6 L340.98 250.35 L341.26 249.09 L341.53 247.82 L341.81 246.57 L342.08 245.31 L342.36 244.07 L342.63 242.83 L342.91 241.61 L343.19 240.4 L343.46 239.19 L343.74 237.98 L344.01 236.76 L344.29 235.55 L344.56 234.36 L344.84 233.2 L345.11 232.08 L345.39 231 L345.67 229.99 L345.94 229.02 L346.22 228.08 L346.49 227.16 L346.77 226.28 L347.04 225.41 L347.32 224.56 L347.59 223.74 L347.87 222.93 L348.14 222.14 L348.42 221.37 L348.7 220.6 L348.97 219.85 L349.25 219.1 L349.52 218.35 L349.8 217.6 L350.07 216.86 L350.35 216.14 L350.62 215.44 L350.9 214.77 L351.18 214.13 L351.45 213.52 L351.73 212.96 L352 212.45 L352.28 211.97 L352.55 211.49 L352.83 211.02 L353.1 210.56 L353.38 210.12 L353.66 209.69 L353.93 209.29 L354.21 208.9 L354.48 208.55 L354.76 208.22 L355.03 207.92 L355.31 207.66 L355.58 207.43 L355.86 207.25 L356.13 207.08 L356.41 206.92 L356.69 206.77 L356.96 206.62 L357.24 206.47 L357.51 206.33 L357.79 206.2 L358.06 206.07 L358.34 205.95 L358.61 205.84 L358.89 205.74 L359.17 205.65 L359.44 205.57 L359.72 205.5 L359.99 205.44 L360.27 205.39 L360.54 205.36 L360.82 205.34 L361.09 205.33 L361.37 205.34 L361.64 205.37 L361.92 205.41 L362.2 205.47 L362.47 205.54 L362.75 205.63 L363.02 205.72 L363.3 205.83 L363.57 205.94 L363.85 206.06 L364.12 206.18 L364.4 206.3 L364.68 206.42 L364.95 206.56 L365.23 206.72 L365.5 206.89 L365.78 207.09 L366.05 207.31 L366.33 207.54 L366.6 207.78 L366.88 208.04 L367.15 208.31 L367.43 208.59 L367.71 208.88 L367.98 209.18 L368.26 209.48 L368.53 209.78 L368.81 210.09 L369.08 210.4 L369.36 210.7 L369.63 211.01 L369.91 211.31 L370.19 211.62 L370.46 211.93 L370.74 212.26 L371.01 212.6 L371.29 212.94 L371.56 213.29 L371.84 213.65 L372.11 214.02 L372.39 214.39 L372.66 214.76 L372.94 215.14 L373.22 215.53 L373.49 215.91 L373.77 216.3 L374.04 216.69 L374.32 217.09 L374.59 217.48 L374.87 217.87 L375.14 218.26 L375.42 218.65 L375.7 219.04 L375.97 219.43 L376.25 219.81 L376.52 220.19 L376.8 220.56 L377.07 220.93 L377.35 221.29 L377.62 221.65 L377.9 222.01 L378.17 222.37 L378.45 222.72 L378.73 223.08 L379 223.43 L379.28 223.79 L379.55 224.14 L379.83 224.49 L380.1 224.84 L380.38 225.19 L380.65 225.54 L380.93 225.89 L381.21 226.24 L381.48 226.58 L381.76 226.93 L382.03 227.28 L382.31 227.62 L382.58 227.97 L382.86 228.32 L383.13 228.66 L383.41 229.01 L383.68 229.36 L383.96 229.7 L384.24 230.05 L384.51 230.39 L384.79 230.74 L385.06 231.09 L385.34 231.44 L385.61 231.79 L385.89 232.13 L386.16 232.48 L386.44 232.83 L386.72 233.18 L386.99 233.54 L387.27 233.89 L387.54 234.24 L387.82 234.6 L388.09 234.95 L388.37 235.31 L388.64 235.67 L388.92 236.03 L389.19 236.39 L389.47 236.75 L389.75 237.11 L390.02 237.48 L390.3 237.84 L390.57 238.21 L390.85 238.59 L391.12 238.96 L391.4 239.33 L391.67 239.71 L391.95 240.09 L392.23 240.47 L392.5 240.85 L392.78 241.23 L393.05 241.62 L393.33 242 L393.6 242.38 L393.88 242.77 L394.15 243.16 L394.43 243.54 L394.7 243.93 L394.98 244.32 L395.26 244.7 L395.53 245.09 L395.81 245.48 L396.08 245.87 L396.36 246.25 L396.63 246.64 L396.91 247.03 L397.18 247.41 L397.46 247.8 L397.74 248.18 L398.01 248.56 L398.29 248.94 L398.56 249.32 L398.84 249.7 L399.11 250.08 L399.39 250.46 L399.66 250.83 L399.94 251.2 L400.21 251.57 L400.49 251.94 L400.77 252.31 L401.04 252.67 L401.32 253.03 L401.59 253.39 L401.87 253.75 L402.14 254.1 L402.42 254.45 L402.69 254.8 L402.97 255.15 L403.25 255.5 L403.52 255.85 L403.8 256.19 L404.07 256.54 L404.35 256.88 L404.62 257.22 L404.9 257.56 L405.17 257.9 L405.45 258.24 L405.72 258.58 L406 258.92 L406.28 259.25 L406.55 259.59 L406.83 259.92 L407.1 260.25 L407.38 260.59 L407.65 260.92 L407.93 261.25 L408.2 261.58 L408.48 261.9 L408.75 262.23 L409.03 262.56 L409.31 262.88 L409.58 263.21 L409.86 263.53 L410.13 263.86 L410.41 264.18 L410.68 264.5 L410.96 264.82 L411.23 265.14 L411.51 265.46 L411.79 265.78 L412.06 266.1 L412.34 266.42 L412.61 266.73 L412.89 267.05 L413.16 267.37 L413.44 267.68 L413.71 267.99 L413.99 268.31 L414.26 268.62 L414.54 268.93 L414.82 269.25 L415.09 269.56 L415.37 269.87 L415.64 270.18 L415.92 270.49 L416.19 270.81 L416.47 271.12 L416.74 271.43 L417.02 271.74 L417.3 272.04 L417.57 272.35 L417.85 272.66 L418.12 272.97 L418.4 273.28 L418.67 273.58 L418.95 273.89 L419.22 274.19 L419.5 274.5 L419.78 274.8 L420.05 275.1 L420.33 275.4 L420.6 275.7 L420.88 276 L421.15 276.3 L421.43 276.6 L421.7 276.9 L421.98 277.19 L422.25 277.49 L422.53 277.78 L422.81 278.08 L423.08 278.37 L423.36 278.66 L423.63 278.95 L423.91 279.24 L424.18 279.52 L424.46 279.81 L424.73 280.09 L425.01 280.38 L425.29 280.66 L425.56 280.94 L425.84 281.22 L426.11 281.5 L426.39 281.78 L426.66 282.05 L426.94 282.32 L427.21 282.6 L427.49 282.87 L427.76 283.14 L428.04 283.41 L428.32 283.68 L428.59 283.95 L428.87 284.22 L429.14 284.49 L429.42 284.76 L429.69 285.02 L429.97 285.29 L430.24 285.56 L430.52 285.82 L430.8 286.09 L431.07 286.35 L431.35 286.62 L431.62 286.88 L431.9 287.14 L432.17 287.4 L432.45 287.66 L432.72 287.92 L433 288.18 L433.27 288.44 L433.55 288.7 L433.83 288.96 L434.1 289.21 L434.38 289.46 L434.65 289.72 L434.93 289.97 L435.2 290.22 L435.48 290.47 L435.75 290.72 L436.03 290.96 L436.31 291.21 L436.58 291.45 L436.86 291.7 L437.13 291.94 L437.41 292.18 L437.68 292.42 L437.96 292.66 L438.23 292.89 L438.51 293.13 L438.78 293.36 L439.06 293.59 L439.34 293.82 L439.61 294.05 L439.89 294.27 L440.16 294.5 L440.44 294.72 L440.71 294.94 L440.99 295.16 L441.26 295.38 L441.54 295.6 L441.82 295.81 L442.09 296.02 L442.37 296.23 L442.64 296.44 L442.92 296.65 L443.19 296.86 L443.47 297.07 L443.74 297.28 L444.02 297.48 L444.29 297.69 L444.57 297.89 L444.85 298.1 L445.12 298.3 L445.4 298.5 L445.67 298.71 L445.95 298.91 L446.22 299.11 L446.5 299.31 L446.77 299.51 L447.05 299.71 L447.33 299.9 L447.6 300.1 L447.88 300.3 L448.15 300.49 L448.43 300.69 L448.7 300.88 L448.98 301.07 L449.25 301.26 L449.53 301.45 L449.8 301.64 L450.08 301.83 L450.36 302.02 L450.63 302.21 L450.91 302.39 L451.18 302.58 L451.46 302.76 L451.73 302.94 L452.01 303.13 L452.28 303.31 L452.56 303.49 L452.84 303.67 L453.11 303.85 L453.39 304.02 L453.66 304.2 L453.94 304.37 L454.21 304.55 L454.49 304.72 L454.76 304.89 L455.04 305.06 L455.31 305.23 L455.59 305.4 L455.87 305.57 L456.14 305.73 L456.42 305.9 L456.69 306.06 L456.97 306.22 L457.24 306.39 L457.52 306.55 L457.79 306.71 L458.07 306.86 L458.35 307.02 L458.62 307.18 L458.9 307.33 L459.17 307.48 L459.45 307.63 L459.72 307.78 L460 307.93 L460.27 308.08 L460.55 308.23 L460.82 308.37 L461.1 308.52" fill="none" stroke="#ff0000" stroke-width="1.6" stroke-linejoin="round" />
<rect x="295.8" y="158.2" width="165.3" height="164.4" fill="none" stroke="#000" stroke-width="1.4"/>
<line x1="323.35" y1="322.6" x2="323.35" y2="320.4" stroke="#000" stroke-width="1.1" />
<line x1="323.35" y1="158.2" x2="323.35" y2="160.4" stroke="#000" stroke-width="1.1" />
<line x1="350.9" y1="322.6" x2="350.9" y2="320.4" stroke="#000" stroke-width="1.1" />
<line x1="350.9" y1="158.2" x2="350.9" y2="160.4" stroke="#000" stroke-width="1.1" />
<line x1="378.45" y1="322.6" x2="378.45" y2="320.4" stroke="#000" stroke-width="1.1" />
<line x1="378.45" y1="158.2" x2="378.45" y2="160.4" stroke="#000" stroke-width="1.1" />
<line x1="406" y1="322.6" x2="406" y2="320.4" stroke="#000" stroke-width="1.1" />
<line x1="406" y1="158.2" x2="406" y2="160.4" stroke="#000" stroke-width="1.1" />
<line x1="433.55" y1="322.6" x2="433.55" y2="320.4" stroke="#000" stroke-width="1.1" />
<line x1="433.55" y1="158.2" x2="433.55" y2="160.4" stroke="#000" stroke-width="1.1" />
<line x1="295.8" y1="295.2" x2="298" y2="295.2" stroke="#000" stroke-width="1.1" />
<line x1="461.1" y1="295.2" x2="458.9" y2="295.2" stroke="#000" stroke-width="1.1" />
<line x1="295.8" y1="267.8" x2="298" y2="267.8" stroke="#000" stroke-width="1.1" />
<line x1="461.1" y1="267.8" x2="458.9" y2="267.8" stroke="#000" stroke-width="1.1" />
<line x1="295.8" y1="240.4" x2="298" y2="240.4" stroke="#000" stroke-width="1.1" />
<line x1="461.1" y1="240.4" x2="458.9" y2="240.4" stroke="#000" stroke-width="1.1" />
<line x1="295.8" y1="213" x2="298" y2="213" stroke="#000" stroke-width="1.1" />
<line x1="461.1" y1="213" x2="458.9" y2="213" stroke="#000" stroke-width="1.1" />
<line x1="295.8" y1="185.6" x2="298" y2="185.6" stroke="#000" stroke-width="1.1" />
<line x1="461.1" y1="185.6" x2="458.9" y2="185.6" stroke="#000" stroke-width="1.1" />
<text transform="translate(295.2 339) scale(1 1.08)" font-size="17.9" text-anchor="middle" font-family="Liberation Serif, serif" >0</text>
<text transform="translate(350.3 339) scale(1 1.08)" font-size="17.9" text-anchor="middle" font-family="Liberation Serif, serif" >200</text>
<text transform="translate(405.4 339) scale(1 1.08)" font-size="17.9" text-anchor="middle" font-family="Liberation Serif, serif" >400</text>
<text transform="translate(290.6 274) scale(1 1.08)" font-size="17.9" text-anchor="end" font-family="Liberation Serif, serif" >200</text>
<text transform="translate(290.6 219.2) scale(1 1.08)" font-size="17.9" text-anchor="end" font-family="Liberation Serif, serif" >400</text>
<text transform="translate(451.3 338.8) scale(1 1.08)" font-size="17.9" text-anchor="start" font-family="Liberation Serif, serif" >h</text>
<text transform="translate(460.6 341.4) scale(1 1.08)" font-size="13.2" text-anchor="start" font-family="Liberation Serif, serif" >n</text>
<text transform="translate(259.3 173.7) scale(1 1.08)" font-size="17.9" text-anchor="start" font-family="Liberation Serif, serif" >h</text>
<text transform="translate(269.8 177.2) scale(1 1.08)" font-size="13.2" text-anchor="start" font-family="Liberation Serif, serif" textLength="20.6" lengthAdjust="spacingAndGlyphs">n+1</text>
<text transform="translate(242.8 146.4) scale(1 1.08)" font-size="20" text-anchor="start" font-family="Liberation Sans, sans-serif" font-weight="bold">D</text>
<rect x="301.5" y="122.7" width="91.1" height="58.1" rx="4" ry="4" fill="#fff" stroke="#000" stroke-width="1.2"/>
<line x1="306.5" y1="132.3" x2="316" y2="132.3" stroke="#0000ff" stroke-width="1.4" />
<line x1="306.5" y1="135.8" x2="316" y2="135.8" stroke="#0000ff" stroke-width="1.4" stroke-dasharray="3.4 2.7"/>
<text transform="translate(320.8 137.4) scale(1 1.08)" font-size="18.3" text-anchor="start" font-family="Liberation Serif, serif" >p</text>
<text transform="translate(330.8 140) scale(1 1.08)" font-size="13.2" text-anchor="start" font-family="Liberation Serif, serif" >h</text>
<text transform="translate(338.9 139.1) scale(1 1.08)" font-size="18.3" text-anchor="start" font-family="Liberation Serif, serif" >=</text>
<text transform="translate(354.2 137.4) scale(1 1.08)" font-size="18.3" text-anchor="start" font-family="Liberation Serif, serif" >0.05</text>
<line x1="306.5" y1="151.1" x2="316" y2="151.1" stroke="#00ff00" stroke-width="1.4" />
<line x1="306.5" y1="154.6" x2="316" y2="154.6" stroke="#00ff00" stroke-width="1.4" stroke-dasharray="3.4 2.7"/>
<text transform="translate(320.8 156.2) scale(1 1.08)" font-size="18.3" text-anchor="start" font-family="Liberation Serif, serif" >p</text>
<text transform="translate(330.8 158.8) scale(1 1.08)" font-size="13.2" text-anchor="start" font-family="Liberation Serif, serif" >h</text>
<text transform="translate(338.9 157.9) scale(1 1.08)" font-size="18.3" text-anchor="start" font-family="Liberation Serif, serif" >=</text>
<text transform="translate(354.2 156.2) scale(1 1.08)" font-size="18.3" text-anchor="start" font-family="Liberation Serif, serif" >0.08</text>
<line x1="306.5" y1="169.9" x2="316" y2="169.9" stroke="#ff0000" stroke-width="1.4" />
<line x1="306.5" y1="173.4" x2="316" y2="173.4" stroke="#ff0000" stroke-width="1.4" stroke-dasharray="3.4 2.7"/>
<text transform="translate(320.8 175) scale(1 1.08)" font-size="18.3" text-anchor="start" font-family="Liberation Serif, serif" >p</text>
<text transform="translate(330.8 177.6) scale(1 1.08)" font-size="13.2" text-anchor="start" font-family="Liberation Serif, serif" >h</text>
<text transform="translate(338.9 176.7) scale(1 1.08)" font-size="18.3" text-anchor="start" font-family="Liberation Serif, serif" >=</text>
<text transform="translate(354.2 175) scale(1 1.08)" font-size="18.3" text-anchor="start" font-family="Liberation Serif, serif" >0.13</text>
<rect x="405.7" y="122.7" width="91.5" height="41.5" rx="4" ry="4" fill="#fff" stroke="#000" stroke-width="1.2"/>
<line x1="413.2" y1="132.8" x2="422.7" y2="132.8" stroke="#0000ff" stroke-width="1.4" stroke-dasharray="3.2 3"/>
<line x1="413.2" y1="151.8" x2="422.7" y2="151.8" stroke="#0000ff" stroke-width="1.5" />
<line x1="413.2" y1="136.55" x2="422.7" y2="136.55" stroke="#00ff00" stroke-width="1.4" stroke-dasharray="3.2 3"/>
<line x1="413.2" y1="155.45" x2="422.7" y2="155.45" stroke="#00ff00" stroke-width="1.5" />
<line x1="413.2" y1="140.3" x2="422.7" y2="140.3" stroke="#ff0000" stroke-width="1.4" stroke-dasharray="3.2 3"/>
<line x1="413.2" y1="159.1" x2="422.7" y2="159.1" stroke="#ff0000" stroke-width="1.5" />
<text transform="translate(426.9 137.6) scale(1 1.08)" font-size="18.3" text-anchor="start" font-family="Liberation Serif, serif" >g</text>
<text transform="translate(436.3 140.6) scale(1 1.08)" font-size="13.2" text-anchor="start" font-family="Liberation Serif, serif" >n</text>
<text transform="translate(444.4 139.3) scale(1 1.08)" font-size="18.3" text-anchor="start" font-family="Liberation Serif, serif" >=</text>
<text transform="translate(460.1 137.6) scale(1 1.08)" font-size="18.3" text-anchor="start" font-family="Liberation Serif, serif" >0</text>
<text transform="translate(426.9 156.8) scale(1 1.08)" font-size="18.3" text-anchor="start" font-family="Liberation Serif, serif" >g</text>
<text transform="translate(436.3 159.8) scale(1 1.08)" font-size="13.2" text-anchor="start" font-family="Liberation Serif, serif" >n</text>
<text transform="translate(444.4 158.5) scale(1 1.08)" font-size="18.3" text-anchor="start" font-family="Liberation Serif, serif" >=</text>
<text transform="translate(460.1 156.8) scale(1 1.08)" font-size="18.3" text-anchor="start" font-family="Liberation Serif, serif" >160</text>
<text transform="translate(308.6 241.3) scale(1 1.08)" font-size="17.9" text-anchor="start" font-family="Liberation Serif, serif" >H</text>
<text transform="translate(322.6 246.6) scale(1 1.08)" font-size="13.2" text-anchor="start" font-family="Liberation Serif, serif" >1</text>
<text transform="translate(347.2 289.7) scale(1 1.08)" font-size="17.9" text-anchor="start" font-family="Liberation Serif, serif" >H</text>
<text transform="translate(360.4 295.4) scale(1 1.08)" font-size="13.2" text-anchor="start" font-family="Liberation Serif, serif" >2</text>
<path d="M312.2 247.0 C 309.4 259, 311.8 272, 319.5 279.9" fill="none" stroke="#000" stroke-width="1.4"/>
<polygon points="324.6,283.8 316.16,280.87 319.47,276.48" fill="#000"/>
<path d="M362.8 278.5 C 370.5 275, 376 264, 380.6 249.5" fill="none" stroke="#000" stroke-width="1.4"/>
<polygon points="383.4,242.3 382.88,251.22 377.76,249.23" fill="#000"/>
</svg>
</body></html>
